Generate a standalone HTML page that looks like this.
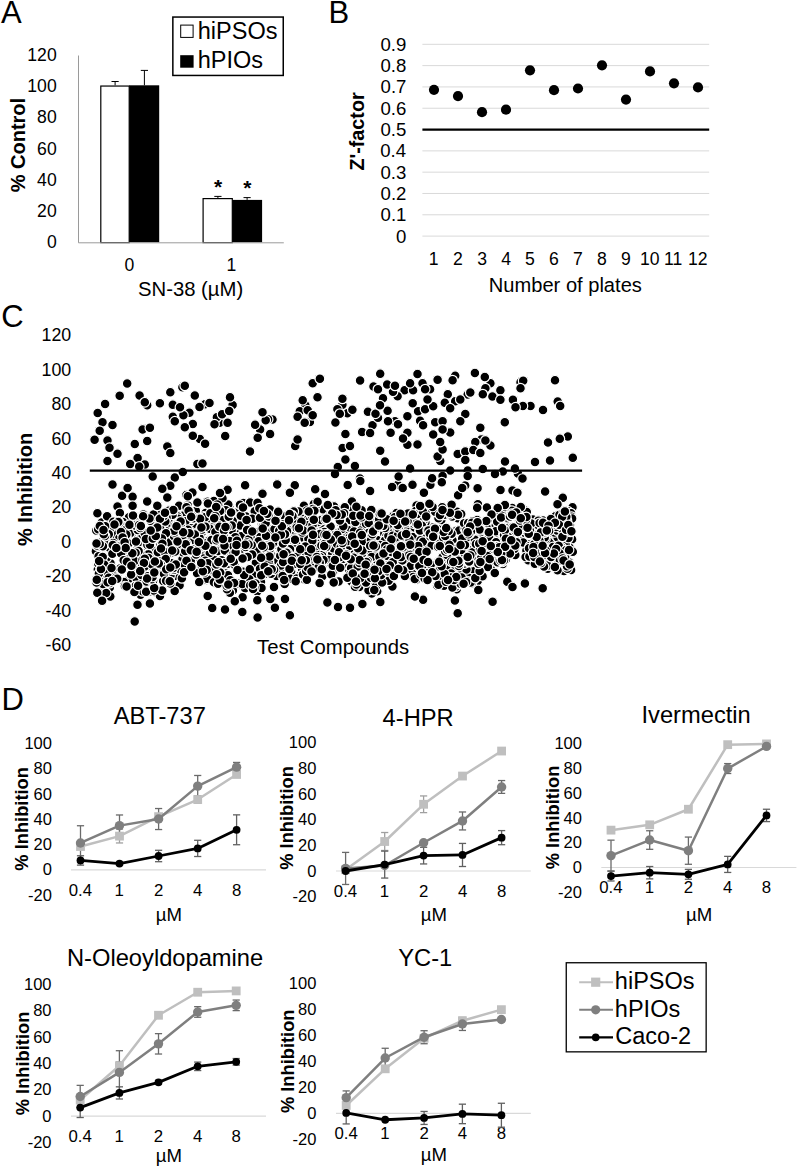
<!DOCTYPE html>
<html><head><meta charset="utf-8"><title>Figure</title><style>
html,body{margin:0;padding:0;background:#fff;}
body{width:797px;height:1167px;overflow:hidden;}
svg{display:block;font-family:"Liberation Sans",sans-serif;}
</style></head><body>
<svg width="797" height="1167" viewBox="0 0 797 1167">
<rect x="0" y="0" width="797" height="1167" fill="#fff"/>
<text x="1.04" y="22.60" font-size="31.00" fill="#000">A</text>
<text x="328.46" y="22.70" font-size="31.00" fill="#000">B</text>
<text x="1.33" y="326.80" font-size="31.00" fill="#000">C</text>
<text x="1.46" y="709.60" font-size="31.00" fill="#000">D</text>
<line x1="78.50" y1="55.50" x2="78.50" y2="242.80" stroke="#9a9a9a" stroke-width="1.00"/>
<text x="46.90" y="248.35" font-size="17.60" fill="#000">0</text>
<text x="37.11" y="217.10" font-size="17.60" fill="#000">20</text>
<text x="37.11" y="185.85" font-size="17.60" fill="#000">40</text>
<text x="37.11" y="154.60" font-size="17.60" fill="#000">60</text>
<text x="37.11" y="123.35" font-size="17.60" fill="#000">80</text>
<text x="27.32" y="92.10" font-size="17.60" fill="#000">100</text>
<text x="27.32" y="60.85" font-size="17.60" fill="#000">120</text>
<rect x="100.80" y="86.05" width="28.40" height="156.55" fill="#fff" stroke="#000" stroke-width="1.20"/>
<rect x="129.20" y="85.30" width="30.00" height="157.00" fill="#000"/>
<rect x="203.10" y="198.60" width="29.20" height="44.00" fill="#fff" stroke="#000" stroke-width="1.20"/>
<rect x="232.30" y="199.90" width="29.80" height="42.40" fill="#000"/>
<line x1="78.50" y1="242.80" x2="283.80" y2="242.80" stroke="#9a9a9a" stroke-width="1.00"/>
<line x1="115.10" y1="85.30" x2="115.10" y2="81.50" stroke="#000" stroke-width="1.00"/>
<line x1="111.50" y1="81.50" x2="118.70" y2="81.50" stroke="#000" stroke-width="1.00"/>
<line x1="144.40" y1="85.30" x2="144.40" y2="70.40" stroke="#000" stroke-width="1.00"/>
<line x1="140.80" y1="70.40" x2="148.00" y2="70.40" stroke="#000" stroke-width="1.00"/>
<line x1="217.90" y1="198.00" x2="217.90" y2="196.40" stroke="#000" stroke-width="1.00"/>
<line x1="214.30" y1="196.40" x2="221.50" y2="196.40" stroke="#000" stroke-width="1.00"/>
<line x1="247.10" y1="199.90" x2="247.10" y2="197.60" stroke="#000" stroke-width="1.00"/>
<line x1="243.50" y1="197.60" x2="250.70" y2="197.60" stroke="#000" stroke-width="1.00"/>
<text x="213.89" y="193.64" font-size="21.00" font-weight="bold" fill="#000">*</text>
<text x="243.29" y="195.24" font-size="21.00" font-weight="bold" fill="#000">*</text>
<text x="124.41" y="271.00" font-size="17.60" fill="#000">0</text>
<text x="226.57" y="271.00" font-size="17.60" fill="#000">1</text>
<text x="137.98" y="295.90" font-size="20.30" fill="#000">SN-38 (µM)</text>
<text transform="translate(25.00,192.30) rotate(-90)" font-size="20.00" font-weight="bold">% Control</text>
<rect x="172.85" y="17.05" width="110.40" height="58.40" fill="none" stroke="#000" stroke-width="1.50"/>
<rect x="180.70" y="25.10" width="12.40" height="12.30" fill="#fff" stroke="#000" stroke-width="1.00"/>
<rect x="180.20" y="55.20" width="13.40" height="12.50" fill="#000"/>
<text x="197.77" y="38.60" font-size="23.50" fill="#000">hiPSOs</text>
<text x="197.77" y="68.30" font-size="23.50" fill="#000">hPIOs</text>
<line x1="422.40" y1="236.10" x2="709.20" y2="236.10" stroke="#d9d9d9" stroke-width="1.00"/>
<line x1="422.40" y1="214.79" x2="709.20" y2="214.79" stroke="#d9d9d9" stroke-width="1.00"/>
<line x1="422.40" y1="193.48" x2="709.20" y2="193.48" stroke="#d9d9d9" stroke-width="1.00"/>
<line x1="422.40" y1="172.17" x2="709.20" y2="172.17" stroke="#d9d9d9" stroke-width="1.00"/>
<line x1="422.40" y1="150.86" x2="709.20" y2="150.86" stroke="#d9d9d9" stroke-width="1.00"/>
<line x1="422.40" y1="108.24" x2="709.20" y2="108.24" stroke="#d9d9d9" stroke-width="1.00"/>
<line x1="422.40" y1="86.93" x2="709.20" y2="86.93" stroke="#d9d9d9" stroke-width="1.00"/>
<line x1="422.40" y1="65.62" x2="709.20" y2="65.62" stroke="#d9d9d9" stroke-width="1.00"/>
<line x1="422.40" y1="44.31" x2="709.20" y2="44.31" stroke="#d9d9d9" stroke-width="1.00"/>
<line x1="422.40" y1="129.55" x2="709.20" y2="129.55" stroke="#000" stroke-width="2.20"/>
<text x="395.88" y="242.50" font-size="18.60" fill="#000">0</text>
<text x="380.55" y="221.19" font-size="18.60" fill="#000">0.1</text>
<text x="380.58" y="199.88" font-size="18.60" fill="#000">0.2</text>
<text x="380.46" y="178.57" font-size="18.60" fill="#000">0.3</text>
<text x="380.19" y="157.26" font-size="18.60" fill="#000">0.4</text>
<text x="380.42" y="135.95" font-size="18.60" fill="#000">0.5</text>
<text x="380.46" y="114.64" font-size="18.60" fill="#000">0.6</text>
<text x="380.58" y="93.33" font-size="18.60" fill="#000">0.7</text>
<text x="380.45" y="72.02" font-size="18.60" fill="#000">0.8</text>
<text x="380.52" y="50.71" font-size="18.60" fill="#000">0.9</text>
<circle cx="434.00" cy="89.80" r="5.10" fill="#000"/>
<circle cx="458.00" cy="96.10" r="5.10" fill="#000"/>
<circle cx="482.00" cy="112.20" r="5.10" fill="#000"/>
<circle cx="506.00" cy="109.70" r="5.10" fill="#000"/>
<circle cx="530.00" cy="70.30" r="5.10" fill="#000"/>
<circle cx="554.00" cy="90.20" r="5.10" fill="#000"/>
<circle cx="578.00" cy="88.50" r="5.10" fill="#000"/>
<circle cx="602.00" cy="65.30" r="5.10" fill="#000"/>
<circle cx="626.00" cy="99.60" r="5.10" fill="#000"/>
<circle cx="650.00" cy="71.40" r="5.10" fill="#000"/>
<circle cx="674.00" cy="83.30" r="5.10" fill="#000"/>
<circle cx="698.00" cy="87.40" r="5.10" fill="#000"/>
<text x="428.87" y="264.90" font-size="17.60" fill="#000">1</text>
<text x="453.11" y="264.90" font-size="17.60" fill="#000">2</text>
<text x="477.16" y="264.90" font-size="17.60" fill="#000">3</text>
<text x="501.16" y="264.90" font-size="17.60" fill="#000">4</text>
<text x="525.12" y="264.90" font-size="17.60" fill="#000">5</text>
<text x="549.05" y="264.90" font-size="17.60" fill="#000">6</text>
<text x="573.10" y="264.90" font-size="17.60" fill="#000">7</text>
<text x="597.11" y="264.90" font-size="17.60" fill="#000">8</text>
<text x="621.11" y="264.90" font-size="17.60" fill="#000">9</text>
<text x="639.89" y="264.90" font-size="17.60" fill="#000">10</text>
<text x="663.97" y="264.90" font-size="17.60" fill="#000">11</text>
<text x="687.98" y="264.90" font-size="17.60" fill="#000">12</text>
<text x="488.85" y="291.80" font-size="20.10" fill="#000">Number of plates</text>
<text transform="translate(363.80,170.59) rotate(-90)" font-size="19.80" font-weight="bold">Z'-factor</text>
<text x="45.47" y="651.32" font-size="17.80" fill="#000">-60</text>
<text x="45.47" y="616.86" font-size="17.80" fill="#000">-40</text>
<text x="45.47" y="582.39" font-size="17.80" fill="#000">-20</text>
<text x="61.30" y="547.92" font-size="17.80" fill="#000">0</text>
<text x="51.40" y="513.46" font-size="17.80" fill="#000">20</text>
<text x="51.40" y="478.99" font-size="17.80" fill="#000">40</text>
<text x="51.40" y="444.53" font-size="17.80" fill="#000">60</text>
<text x="51.40" y="410.06" font-size="17.80" fill="#000">80</text>
<text x="41.50" y="375.59" font-size="17.80" fill="#000">100</text>
<text x="41.50" y="341.13" font-size="17.80" fill="#000">120</text>
<text transform="translate(31.50,546.10) rotate(-90)" font-size="20.00" font-weight="bold">% Inhibition</text>
<text x="257.04" y="653.80" font-size="20.30" fill="#000">Test Compounds</text>
<g fill="#000" stroke="#fff" stroke-width="1.2">
<circle cx="557.7" cy="401.5" r="4.85"/>
<circle cx="136.4" cy="572.0" r="4.85"/>
<circle cx="251.8" cy="576.3" r="4.85"/>
<circle cx="543.5" cy="531.1" r="4.85"/>
<circle cx="309.9" cy="421.9" r="4.85"/>
<circle cx="134.7" cy="526.3" r="4.85"/>
<circle cx="163.8" cy="567.6" r="4.85"/>
<circle cx="450.2" cy="565.1" r="4.85"/>
<circle cx="535.3" cy="539.1" r="4.85"/>
<circle cx="95.9" cy="551.3" r="4.85"/>
<circle cx="421.6" cy="534.2" r="4.85"/>
<circle cx="404.6" cy="390.2" r="4.85"/>
<circle cx="106.5" cy="521.6" r="4.85"/>
<circle cx="347.8" cy="517.1" r="4.85"/>
<circle cx="436.6" cy="510.7" r="4.85"/>
<circle cx="179.6" cy="585.2" r="4.85"/>
<circle cx="392.1" cy="558.1" r="4.85"/>
<circle cx="132.6" cy="553.8" r="4.85"/>
<circle cx="149.9" cy="603.6" r="4.85"/>
<circle cx="131.6" cy="550.9" r="4.85"/>
<circle cx="535.6" cy="536.8" r="4.85"/>
<circle cx="267.7" cy="547.6" r="4.85"/>
<circle cx="521.4" cy="508.5" r="4.85"/>
<circle cx="339.4" cy="518.7" r="4.85"/>
<circle cx="278.0" cy="517.5" r="4.85"/>
<circle cx="571.1" cy="570.1" r="4.85"/>
<circle cx="455.2" cy="375.7" r="4.85"/>
<circle cx="140.5" cy="594.7" r="4.85"/>
<circle cx="146.5" cy="552.6" r="4.85"/>
<circle cx="372.5" cy="425.3" r="4.85"/>
<circle cx="341.4" cy="526.7" r="4.85"/>
<circle cx="522.0" cy="515.4" r="4.85"/>
<circle cx="352.8" cy="529.2" r="4.85"/>
<circle cx="282.9" cy="533.2" r="4.85"/>
<circle cx="295.2" cy="446.0" r="4.85"/>
<circle cx="195.0" cy="566.5" r="4.85"/>
<circle cx="148.4" cy="553.8" r="4.85"/>
<circle cx="172.2" cy="552.7" r="4.85"/>
<circle cx="501.7" cy="506.9" r="4.85"/>
<circle cx="397.6" cy="396.2" r="4.85"/>
<circle cx="272.5" cy="419.5" r="4.85"/>
<circle cx="200.3" cy="518.3" r="4.85"/>
<circle cx="380.2" cy="373.7" r="4.85"/>
<circle cx="440.2" cy="460.9" r="4.85"/>
<circle cx="240.6" cy="514.1" r="4.85"/>
<circle cx="406.9" cy="547.0" r="4.85"/>
<circle cx="299.5" cy="528.9" r="4.85"/>
<circle cx="345.4" cy="459.5" r="4.85"/>
<circle cx="127.5" cy="530.4" r="4.85"/>
<circle cx="354.1" cy="565.6" r="4.85"/>
<circle cx="111.5" cy="542.7" r="4.85"/>
<circle cx="139.3" cy="537.7" r="4.85"/>
<circle cx="304.2" cy="559.4" r="4.85"/>
<circle cx="182.0" cy="557.2" r="4.85"/>
<circle cx="197.1" cy="515.1" r="4.85"/>
<circle cx="134.7" cy="621.6" r="4.85"/>
<circle cx="137.4" cy="520.9" r="4.85"/>
<circle cx="328.3" cy="543.2" r="4.85"/>
<circle cx="278.9" cy="559.8" r="4.85"/>
<circle cx="430.1" cy="512.0" r="4.85"/>
<circle cx="404.4" cy="536.3" r="4.85"/>
<circle cx="350.0" cy="607.8" r="4.85"/>
<circle cx="251.2" cy="557.2" r="4.85"/>
<circle cx="477.6" cy="488.3" r="4.85"/>
<circle cx="297.9" cy="576.5" r="4.85"/>
<circle cx="440.5" cy="510.7" r="4.85"/>
<circle cx="255.3" cy="558.5" r="4.85"/>
<circle cx="138.9" cy="572.5" r="4.85"/>
<circle cx="146.8" cy="561.6" r="4.85"/>
<circle cx="197.4" cy="463.9" r="4.85"/>
<circle cx="171.2" cy="550.4" r="4.85"/>
<circle cx="238.7" cy="541.2" r="4.85"/>
<circle cx="440.3" cy="532.2" r="4.85"/>
<circle cx="361.4" cy="518.1" r="4.85"/>
<circle cx="572.5" cy="507.2" r="4.85"/>
<circle cx="221.9" cy="544.5" r="4.85"/>
<circle cx="397.2" cy="545.2" r="4.85"/>
<circle cx="537.4" cy="559.8" r="4.85"/>
<circle cx="541.0" cy="537.4" r="4.85"/>
<circle cx="317.5" cy="397.2" r="4.85"/>
<circle cx="363.0" cy="560.9" r="4.85"/>
<circle cx="521.8" cy="533.3" r="4.85"/>
<circle cx="377.7" cy="574.2" r="4.85"/>
<circle cx="454.8" cy="571.7" r="4.85"/>
<circle cx="409.1" cy="545.3" r="4.85"/>
<circle cx="472.3" cy="536.9" r="4.85"/>
<circle cx="490.3" cy="550.7" r="4.85"/>
<circle cx="357.5" cy="532.1" r="4.85"/>
<circle cx="209.4" cy="553.2" r="4.85"/>
<circle cx="447.5" cy="546.1" r="4.85"/>
<circle cx="443.4" cy="515.5" r="4.85"/>
<circle cx="181.4" cy="552.4" r="4.85"/>
<circle cx="288.6" cy="521.1" r="4.85"/>
<circle cx="564.0" cy="571.1" r="4.85"/>
<circle cx="312.7" cy="383.2" r="4.85"/>
<circle cx="493.3" cy="526.9" r="4.85"/>
<circle cx="197.6" cy="542.2" r="4.85"/>
<circle cx="351.8" cy="529.5" r="4.85"/>
<circle cx="309.8" cy="551.6" r="4.85"/>
<circle cx="224.8" cy="537.8" r="4.85"/>
<circle cx="301.2" cy="557.1" r="4.85"/>
<circle cx="184.8" cy="516.6" r="4.85"/>
<circle cx="530.5" cy="405.9" r="4.85"/>
<circle cx="483.7" cy="526.0" r="4.85"/>
<circle cx="445.5" cy="565.1" r="4.85"/>
<circle cx="473.2" cy="549.8" r="4.85"/>
<circle cx="150.6" cy="591.2" r="4.85"/>
<circle cx="548.0" cy="553.7" r="4.85"/>
<circle cx="453.4" cy="516.9" r="4.85"/>
<circle cx="473.1" cy="534.1" r="4.85"/>
<circle cx="427.9" cy="549.5" r="4.85"/>
<circle cx="376.6" cy="547.2" r="4.85"/>
<circle cx="396.2" cy="518.6" r="4.85"/>
<circle cx="232.6" cy="404.9" r="4.85"/>
<circle cx="490.1" cy="549.5" r="4.85"/>
<circle cx="485.0" cy="531.4" r="4.85"/>
<circle cx="162.4" cy="547.3" r="4.85"/>
<circle cx="238.3" cy="548.7" r="4.85"/>
<circle cx="270.1" cy="434.0" r="4.85"/>
<circle cx="502.8" cy="520.3" r="4.85"/>
<circle cx="303.2" cy="508.3" r="4.85"/>
<circle cx="567.9" cy="511.3" r="4.85"/>
<circle cx="263.3" cy="544.8" r="4.85"/>
<circle cx="149.4" cy="585.6" r="4.85"/>
<circle cx="572.1" cy="539.2" r="4.85"/>
<circle cx="453.5" cy="571.9" r="4.85"/>
<circle cx="547.2" cy="531.1" r="4.85"/>
<circle cx="244.6" cy="557.8" r="4.85"/>
<circle cx="418.1" cy="530.6" r="4.85"/>
<circle cx="477.9" cy="504.3" r="4.85"/>
<circle cx="192.6" cy="511.6" r="4.85"/>
<circle cx="174.8" cy="477.5" r="4.85"/>
<circle cx="507.0" cy="539.2" r="4.85"/>
<circle cx="202.6" cy="552.3" r="4.85"/>
<circle cx="537.5" cy="536.7" r="4.85"/>
<circle cx="418.1" cy="411.3" r="4.85"/>
<circle cx="117.6" cy="537.6" r="4.85"/>
<circle cx="460.1" cy="554.4" r="4.85"/>
<circle cx="479.0" cy="543.6" r="4.85"/>
<circle cx="319.2" cy="527.3" r="4.85"/>
<circle cx="194.3" cy="539.9" r="4.85"/>
<circle cx="174.5" cy="576.1" r="4.85"/>
<circle cx="407.4" cy="432.8" r="4.85"/>
<circle cx="424.2" cy="553.9" r="4.85"/>
<circle cx="145.2" cy="568.2" r="4.85"/>
<circle cx="491.1" cy="539.6" r="4.85"/>
<circle cx="223.0" cy="552.4" r="4.85"/>
<circle cx="234.0" cy="552.1" r="4.85"/>
<circle cx="385.0" cy="461.5" r="4.85"/>
<circle cx="195.5" cy="564.5" r="4.85"/>
<circle cx="110.5" cy="563.3" r="4.85"/>
<circle cx="395.4" cy="539.4" r="4.85"/>
<circle cx="122.1" cy="495.7" r="4.85"/>
<circle cx="382.6" cy="544.1" r="4.85"/>
<circle cx="184.3" cy="570.5" r="4.85"/>
<circle cx="351.4" cy="581.6" r="4.85"/>
<circle cx="205.6" cy="512.9" r="4.85"/>
<circle cx="346.4" cy="541.8" r="4.85"/>
<circle cx="457.2" cy="511.8" r="4.85"/>
<circle cx="416.6" cy="505.6" r="4.85"/>
<circle cx="502.9" cy="564.0" r="4.85"/>
<circle cx="407.7" cy="536.4" r="4.85"/>
<circle cx="456.3" cy="530.8" r="4.85"/>
<circle cx="547.2" cy="558.2" r="4.85"/>
<circle cx="354.8" cy="514.2" r="4.85"/>
<circle cx="189.3" cy="560.4" r="4.85"/>
<circle cx="560.3" cy="527.4" r="4.85"/>
<circle cx="477.7" cy="581.0" r="4.85"/>
<circle cx="108.2" cy="584.7" r="4.85"/>
<circle cx="435.8" cy="533.1" r="4.85"/>
<circle cx="554.4" cy="540.7" r="4.85"/>
<circle cx="244.4" cy="544.6" r="4.85"/>
<circle cx="454.9" cy="600.5" r="4.85"/>
<circle cx="512.8" cy="514.7" r="4.85"/>
<circle cx="304.7" cy="515.8" r="4.85"/>
<circle cx="303.9" cy="505.7" r="4.85"/>
<circle cx="432.5" cy="572.0" r="4.85"/>
<circle cx="404.7" cy="549.9" r="4.85"/>
<circle cx="147.2" cy="405.3" r="4.85"/>
<circle cx="165.3" cy="581.6" r="4.85"/>
<circle cx="549.4" cy="550.3" r="4.85"/>
<circle cx="242.5" cy="586.0" r="4.85"/>
<circle cx="447.8" cy="394.2" r="4.85"/>
<circle cx="448.7" cy="570.6" r="4.85"/>
<circle cx="549.6" cy="534.1" r="4.85"/>
<circle cx="160.5" cy="526.5" r="4.85"/>
<circle cx="352.0" cy="568.9" r="4.85"/>
<circle cx="456.7" cy="589.2" r="4.85"/>
<circle cx="325.5" cy="554.4" r="4.85"/>
<circle cx="193.7" cy="525.3" r="4.85"/>
<circle cx="141.1" cy="534.6" r="4.85"/>
<circle cx="558.3" cy="539.0" r="4.85"/>
<circle cx="122.3" cy="546.2" r="4.85"/>
<circle cx="320.5" cy="546.4" r="4.85"/>
<circle cx="358.2" cy="566.4" r="4.85"/>
<circle cx="203.7" cy="516.5" r="4.85"/>
<circle cx="170.5" cy="575.5" r="4.85"/>
<circle cx="486.0" cy="550.9" r="4.85"/>
<circle cx="493.3" cy="563.9" r="4.85"/>
<circle cx="496.9" cy="551.0" r="4.85"/>
<circle cx="192.8" cy="423.9" r="4.85"/>
<circle cx="412.3" cy="532.3" r="4.85"/>
<circle cx="389.4" cy="527.1" r="4.85"/>
<circle cx="522.3" cy="528.1" r="4.85"/>
<circle cx="238.5" cy="554.7" r="4.85"/>
<circle cx="129.6" cy="578.4" r="4.85"/>
<circle cx="232.7" cy="519.0" r="4.85"/>
<circle cx="512.5" cy="490.4" r="4.85"/>
<circle cx="239.0" cy="553.0" r="4.85"/>
<circle cx="487.9" cy="528.1" r="4.85"/>
<circle cx="238.0" cy="550.1" r="4.85"/>
<circle cx="365.4" cy="573.9" r="4.85"/>
<circle cx="123.9" cy="582.1" r="4.85"/>
<circle cx="561.8" cy="545.1" r="4.85"/>
<circle cx="238.2" cy="583.5" r="4.85"/>
<circle cx="553.6" cy="564.8" r="4.85"/>
<circle cx="567.4" cy="525.8" r="4.85"/>
<circle cx="314.8" cy="525.3" r="4.85"/>
<circle cx="553.4" cy="542.3" r="4.85"/>
<circle cx="230.0" cy="508.5" r="4.85"/>
<circle cx="212.3" cy="568.7" r="4.85"/>
<circle cx="364.5" cy="573.5" r="4.85"/>
<circle cx="100.8" cy="583.1" r="4.85"/>
<circle cx="301.1" cy="512.6" r="4.85"/>
<circle cx="167.9" cy="570.4" r="4.85"/>
<circle cx="323.3" cy="509.4" r="4.85"/>
<circle cx="245.1" cy="588.3" r="4.85"/>
<circle cx="315.2" cy="489.2" r="4.85"/>
<circle cx="220.9" cy="523.7" r="4.85"/>
<circle cx="476.5" cy="533.1" r="4.85"/>
<circle cx="418.2" cy="562.1" r="4.85"/>
<circle cx="276.4" cy="575.9" r="4.85"/>
<circle cx="279.6" cy="543.1" r="4.85"/>
<circle cx="291.7" cy="560.6" r="4.85"/>
<circle cx="467.7" cy="470.5" r="4.85"/>
<circle cx="205.1" cy="404.3" r="4.85"/>
<circle cx="234.8" cy="531.7" r="4.85"/>
<circle cx="116.8" cy="579.1" r="4.85"/>
<circle cx="100.4" cy="564.0" r="4.85"/>
<circle cx="117.8" cy="531.1" r="4.85"/>
<circle cx="199.9" cy="439.0" r="4.85"/>
<circle cx="222.4" cy="507.1" r="4.85"/>
<circle cx="131.4" cy="534.0" r="4.85"/>
<circle cx="440.9" cy="532.1" r="4.85"/>
<circle cx="219.5" cy="504.6" r="4.85"/>
<circle cx="136.6" cy="578.6" r="4.85"/>
<circle cx="463.3" cy="555.3" r="4.85"/>
<circle cx="393.7" cy="515.6" r="4.85"/>
<circle cx="400.8" cy="568.6" r="4.85"/>
<circle cx="360.4" cy="531.1" r="4.85"/>
<circle cx="278.0" cy="555.0" r="4.85"/>
<circle cx="427.5" cy="550.6" r="4.85"/>
<circle cx="523.4" cy="510.6" r="4.85"/>
<circle cx="118.8" cy="527.0" r="4.85"/>
<circle cx="478.3" cy="539.1" r="4.85"/>
<circle cx="137.6" cy="458.1" r="4.85"/>
<circle cx="167.3" cy="446.4" r="4.85"/>
<circle cx="266.6" cy="549.8" r="4.85"/>
<circle cx="535.8" cy="556.2" r="4.85"/>
<circle cx="137.1" cy="545.5" r="4.85"/>
<circle cx="171.9" cy="520.0" r="4.85"/>
<circle cx="450.2" cy="470.5" r="4.85"/>
<circle cx="371.6" cy="556.7" r="4.85"/>
<circle cx="97.5" cy="564.2" r="4.85"/>
<circle cx="156.9" cy="565.5" r="4.85"/>
<circle cx="469.2" cy="530.5" r="4.85"/>
<circle cx="318.4" cy="521.0" r="4.85"/>
<circle cx="283.8" cy="527.3" r="4.85"/>
<circle cx="304.5" cy="579.4" r="4.85"/>
<circle cx="347.9" cy="530.0" r="4.85"/>
<circle cx="280.3" cy="539.8" r="4.85"/>
<circle cx="253.8" cy="550.8" r="4.85"/>
<circle cx="481.5" cy="564.2" r="4.85"/>
<circle cx="258.9" cy="539.3" r="4.85"/>
<circle cx="208.6" cy="540.7" r="4.85"/>
<circle cx="483.7" cy="553.8" r="4.85"/>
<circle cx="551.4" cy="532.7" r="4.85"/>
<circle cx="190.1" cy="521.4" r="4.85"/>
<circle cx="150.4" cy="520.8" r="4.85"/>
<circle cx="455.3" cy="555.6" r="4.85"/>
<circle cx="246.3" cy="557.0" r="4.85"/>
<circle cx="485.1" cy="557.9" r="4.85"/>
<circle cx="127.4" cy="532.9" r="4.85"/>
<circle cx="415.0" cy="550.8" r="4.85"/>
<circle cx="529.5" cy="552.3" r="4.85"/>
<circle cx="194.2" cy="549.0" r="4.85"/>
<circle cx="127.0" cy="545.9" r="4.85"/>
<circle cx="570.7" cy="522.3" r="4.85"/>
<circle cx="528.2" cy="560.3" r="4.85"/>
<circle cx="286.7" cy="531.1" r="4.85"/>
<circle cx="563.1" cy="539.0" r="4.85"/>
<circle cx="295.4" cy="533.6" r="4.85"/>
<circle cx="509.3" cy="520.1" r="4.85"/>
<circle cx="174.0" cy="569.8" r="4.85"/>
<circle cx="246.9" cy="551.5" r="4.85"/>
<circle cx="432.9" cy="567.2" r="4.85"/>
<circle cx="439.2" cy="580.4" r="4.85"/>
<circle cx="286.5" cy="520.8" r="4.85"/>
<circle cx="127.6" cy="488.1" r="4.85"/>
<circle cx="471.9" cy="583.2" r="4.85"/>
<circle cx="183.7" cy="559.4" r="4.85"/>
<circle cx="211.2" cy="554.6" r="4.85"/>
<circle cx="571.1" cy="513.2" r="4.85"/>
<circle cx="373.6" cy="567.9" r="4.85"/>
<circle cx="254.1" cy="548.9" r="4.85"/>
<circle cx="305.3" cy="405.3" r="4.85"/>
<circle cx="460.3" cy="545.5" r="4.85"/>
<circle cx="489.4" cy="523.8" r="4.85"/>
<circle cx="394.5" cy="542.5" r="4.85"/>
<circle cx="195.8" cy="510.8" r="4.85"/>
<circle cx="309.5" cy="540.7" r="4.85"/>
<circle cx="342.6" cy="448.0" r="4.85"/>
<circle cx="262.0" cy="522.4" r="4.85"/>
<circle cx="498.6" cy="515.2" r="4.85"/>
<circle cx="452.5" cy="540.0" r="4.85"/>
<circle cx="452.7" cy="555.1" r="4.85"/>
<circle cx="473.8" cy="548.6" r="4.85"/>
<circle cx="455.8" cy="586.6" r="4.85"/>
<circle cx="555.4" cy="516.2" r="4.85"/>
<circle cx="316.0" cy="523.1" r="4.85"/>
<circle cx="366.8" cy="553.8" r="4.85"/>
<circle cx="340.1" cy="530.7" r="4.85"/>
<circle cx="241.5" cy="571.6" r="4.85"/>
<circle cx="442.6" cy="476.1" r="4.85"/>
<circle cx="569.5" cy="547.4" r="4.85"/>
<circle cx="303.8" cy="546.0" r="4.85"/>
<circle cx="186.4" cy="495.1" r="4.85"/>
<circle cx="365.1" cy="571.0" r="4.85"/>
<circle cx="107.5" cy="440.4" r="4.85"/>
<circle cx="336.0" cy="569.9" r="4.85"/>
<circle cx="295.0" cy="515.1" r="4.85"/>
<circle cx="228.3" cy="504.6" r="4.85"/>
<circle cx="307.8" cy="542.8" r="4.85"/>
<circle cx="179.3" cy="519.4" r="4.85"/>
<circle cx="490.4" cy="445.4" r="4.85"/>
<circle cx="447.2" cy="560.9" r="4.85"/>
<circle cx="275.9" cy="564.0" r="4.85"/>
<circle cx="504.7" cy="517.9" r="4.85"/>
<circle cx="405.1" cy="552.1" r="4.85"/>
<circle cx="571.6" cy="516.7" r="4.85"/>
<circle cx="335.9" cy="533.4" r="4.85"/>
<circle cx="422.7" cy="560.2" r="4.85"/>
<circle cx="298.2" cy="533.0" r="4.85"/>
<circle cx="315.9" cy="505.6" r="4.85"/>
<circle cx="129.0" cy="517.3" r="4.85"/>
<circle cx="239.8" cy="546.2" r="4.85"/>
<circle cx="267.0" cy="531.1" r="4.85"/>
<circle cx="377.2" cy="540.3" r="4.85"/>
<circle cx="211.0" cy="579.3" r="4.85"/>
<circle cx="98.6" cy="556.2" r="4.85"/>
<circle cx="289.2" cy="517.0" r="4.85"/>
<circle cx="127.2" cy="383.6" r="4.85"/>
<circle cx="218.0" cy="536.6" r="4.85"/>
<circle cx="346.4" cy="557.7" r="4.85"/>
<circle cx="198.9" cy="518.0" r="4.85"/>
<circle cx="293.4" cy="560.7" r="4.85"/>
<circle cx="415.8" cy="511.1" r="4.85"/>
<circle cx="457.8" cy="518.3" r="4.85"/>
<circle cx="110.7" cy="573.3" r="4.85"/>
<circle cx="488.5" cy="521.4" r="4.85"/>
<circle cx="135.8" cy="570.3" r="4.85"/>
<circle cx="281.9" cy="518.5" r="4.85"/>
<circle cx="332.6" cy="542.9" r="4.85"/>
<circle cx="498.3" cy="551.2" r="4.85"/>
<circle cx="350.3" cy="520.4" r="4.85"/>
<circle cx="565.8" cy="544.7" r="4.85"/>
<circle cx="206.1" cy="545.0" r="4.85"/>
<circle cx="280.1" cy="568.5" r="4.85"/>
<circle cx="426.7" cy="568.7" r="4.85"/>
<circle cx="122.6" cy="532.2" r="4.85"/>
<circle cx="256.5" cy="582.1" r="4.85"/>
<circle cx="329.2" cy="568.8" r="4.85"/>
<circle cx="467.4" cy="575.0" r="4.85"/>
<circle cx="219.1" cy="570.1" r="4.85"/>
<circle cx="200.7" cy="543.9" r="4.85"/>
<circle cx="102.0" cy="527.0" r="4.85"/>
<circle cx="200.7" cy="528.6" r="4.85"/>
<circle cx="481.3" cy="439.4" r="4.85"/>
<circle cx="158.1" cy="564.2" r="4.85"/>
<circle cx="219.5" cy="422.7" r="4.85"/>
<circle cx="106.6" cy="557.8" r="4.85"/>
<circle cx="411.5" cy="518.6" r="4.85"/>
<circle cx="267.9" cy="529.0" r="4.85"/>
<circle cx="390.3" cy="533.5" r="4.85"/>
<circle cx="276.4" cy="532.5" r="4.85"/>
<circle cx="103.3" cy="545.9" r="4.85"/>
<circle cx="244.3" cy="504.4" r="4.85"/>
<circle cx="388.0" cy="566.2" r="4.85"/>
<circle cx="104.6" cy="581.6" r="4.85"/>
<circle cx="436.3" cy="513.4" r="4.85"/>
<circle cx="204.6" cy="560.8" r="4.85"/>
<circle cx="437.6" cy="456.5" r="4.85"/>
<circle cx="345.5" cy="536.0" r="4.85"/>
<circle cx="133.9" cy="558.2" r="4.85"/>
<circle cx="392.9" cy="565.5" r="4.85"/>
<circle cx="227.7" cy="563.7" r="4.85"/>
<circle cx="550.1" cy="529.8" r="4.85"/>
<circle cx="199.0" cy="551.3" r="4.85"/>
<circle cx="350.0" cy="446.0" r="4.85"/>
<circle cx="373.1" cy="561.0" r="4.85"/>
<circle cx="291.1" cy="571.8" r="4.85"/>
<circle cx="271.4" cy="544.4" r="4.85"/>
<circle cx="295.5" cy="535.0" r="4.85"/>
<circle cx="274.9" cy="607.8" r="4.85"/>
<circle cx="498.3" cy="537.9" r="4.85"/>
<circle cx="342.0" cy="528.9" r="4.85"/>
<circle cx="255.1" cy="589.1" r="4.85"/>
<circle cx="181.2" cy="561.2" r="4.85"/>
<circle cx="128.5" cy="525.2" r="4.85"/>
<circle cx="206.6" cy="554.6" r="4.85"/>
<circle cx="431.9" cy="538.8" r="4.85"/>
<circle cx="436.9" cy="567.3" r="4.85"/>
<circle cx="545.1" cy="491.5" r="4.85"/>
<circle cx="338.9" cy="509.2" r="4.85"/>
<circle cx="559.5" cy="514.8" r="4.85"/>
<circle cx="197.1" cy="573.2" r="4.85"/>
<circle cx="258.9" cy="562.6" r="4.85"/>
<circle cx="383.5" cy="535.0" r="4.85"/>
<circle cx="359.1" cy="546.8" r="4.85"/>
<circle cx="300.1" cy="575.4" r="4.85"/>
<circle cx="158.9" cy="558.1" r="4.85"/>
<circle cx="489.4" cy="532.5" r="4.85"/>
<circle cx="511.2" cy="508.8" r="4.85"/>
<circle cx="440.5" cy="564.6" r="4.85"/>
<circle cx="485.4" cy="440.4" r="4.85"/>
<circle cx="225.5" cy="573.4" r="4.85"/>
<circle cx="513.0" cy="549.8" r="4.85"/>
<circle cx="363.5" cy="541.0" r="4.85"/>
<circle cx="569.5" cy="530.4" r="4.85"/>
<circle cx="297.6" cy="528.4" r="4.85"/>
<circle cx="417.5" cy="444.4" r="4.85"/>
<circle cx="550.4" cy="539.4" r="4.85"/>
<circle cx="546.9" cy="560.8" r="4.85"/>
<circle cx="101.7" cy="522.5" r="4.85"/>
<circle cx="499.3" cy="543.0" r="4.85"/>
<circle cx="515.3" cy="555.1" r="4.85"/>
<circle cx="290.7" cy="578.7" r="4.85"/>
<circle cx="138.6" cy="588.1" r="4.85"/>
<circle cx="192.5" cy="564.6" r="4.85"/>
<circle cx="260.1" cy="429.4" r="4.85"/>
<circle cx="285.2" cy="548.0" r="4.85"/>
<circle cx="548.6" cy="532.9" r="4.85"/>
<circle cx="508.2" cy="541.0" r="4.85"/>
<circle cx="331.0" cy="550.7" r="4.85"/>
<circle cx="152.7" cy="579.8" r="4.85"/>
<circle cx="233.2" cy="526.6" r="4.85"/>
<circle cx="117.5" cy="506.6" r="4.85"/>
<circle cx="241.7" cy="536.0" r="4.85"/>
<circle cx="167.5" cy="543.7" r="4.85"/>
<circle cx="521.0" cy="521.9" r="4.85"/>
<circle cx="110.9" cy="538.2" r="4.85"/>
<circle cx="382.6" cy="531.3" r="4.85"/>
<circle cx="287.7" cy="518.0" r="4.85"/>
<circle cx="570.0" cy="524.9" r="4.85"/>
<circle cx="519.7" cy="509.3" r="4.85"/>
<circle cx="206.9" cy="553.3" r="4.85"/>
<circle cx="119.3" cy="535.7" r="4.85"/>
<circle cx="532.2" cy="531.9" r="4.85"/>
<circle cx="553.1" cy="526.0" r="4.85"/>
<circle cx="139.6" cy="556.3" r="4.85"/>
<circle cx="299.8" cy="411.3" r="4.85"/>
<circle cx="355.2" cy="549.1" r="4.85"/>
<circle cx="155.2" cy="547.7" r="4.85"/>
<circle cx="139.6" cy="395.6" r="4.85"/>
<circle cx="329.8" cy="539.1" r="4.85"/>
<circle cx="396.1" cy="552.1" r="4.85"/>
<circle cx="179.0" cy="505.7" r="4.85"/>
<circle cx="206.8" cy="580.0" r="4.85"/>
<circle cx="203.4" cy="563.9" r="4.85"/>
<circle cx="256.1" cy="573.5" r="4.85"/>
<circle cx="120.9" cy="523.0" r="4.85"/>
<circle cx="472.4" cy="569.0" r="4.85"/>
<circle cx="397.3" cy="517.6" r="4.85"/>
<circle cx="166.0" cy="518.1" r="4.85"/>
<circle cx="323.8" cy="568.8" r="4.85"/>
<circle cx="294.8" cy="485.2" r="4.85"/>
<circle cx="457.1" cy="561.9" r="4.85"/>
<circle cx="111.6" cy="552.8" r="4.85"/>
<circle cx="524.2" cy="509.7" r="4.85"/>
<circle cx="462.4" cy="544.1" r="4.85"/>
<circle cx="370.4" cy="523.6" r="4.85"/>
<circle cx="466.9" cy="581.1" r="4.85"/>
<circle cx="513.8" cy="527.7" r="4.85"/>
<circle cx="473.6" cy="538.0" r="4.85"/>
<circle cx="453.1" cy="549.8" r="4.85"/>
<circle cx="572.8" cy="457.7" r="4.85"/>
<circle cx="145.4" cy="538.8" r="4.85"/>
<circle cx="236.9" cy="544.2" r="4.85"/>
<circle cx="101.8" cy="541.7" r="4.85"/>
<circle cx="245.6" cy="520.7" r="4.85"/>
<circle cx="175.4" cy="542.9" r="4.85"/>
<circle cx="180.0" cy="569.3" r="4.85"/>
<circle cx="550.2" cy="522.2" r="4.85"/>
<circle cx="442.3" cy="560.2" r="4.85"/>
<circle cx="408.4" cy="556.2" r="4.85"/>
<circle cx="412.7" cy="403.3" r="4.85"/>
<circle cx="144.1" cy="534.4" r="4.85"/>
<circle cx="100.1" cy="565.3" r="4.85"/>
<circle cx="249.2" cy="533.3" r="4.85"/>
<circle cx="307.6" cy="553.8" r="4.85"/>
<circle cx="330.1" cy="550.7" r="4.85"/>
<circle cx="322.4" cy="576.2" r="4.85"/>
<circle cx="500.4" cy="390.2" r="4.85"/>
<circle cx="242.5" cy="505.9" r="4.85"/>
<circle cx="141.8" cy="528.2" r="4.85"/>
<circle cx="156.7" cy="535.3" r="4.85"/>
<circle cx="410.2" cy="541.0" r="4.85"/>
<circle cx="273.2" cy="568.4" r="4.85"/>
<circle cx="276.3" cy="560.1" r="4.85"/>
<circle cx="572.1" cy="518.6" r="4.85"/>
<circle cx="315.8" cy="548.6" r="4.85"/>
<circle cx="345.2" cy="558.7" r="4.85"/>
<circle cx="558.2" cy="527.6" r="4.85"/>
<circle cx="514.7" cy="528.3" r="4.85"/>
<circle cx="486.8" cy="537.9" r="4.85"/>
<circle cx="197.1" cy="554.7" r="4.85"/>
<circle cx="527.4" cy="538.7" r="4.85"/>
<circle cx="109.8" cy="587.5" r="4.85"/>
<circle cx="375.2" cy="529.6" r="4.85"/>
<circle cx="492.6" cy="539.1" r="4.85"/>
<circle cx="306.3" cy="547.2" r="4.85"/>
<circle cx="430.8" cy="568.6" r="4.85"/>
<circle cx="410.9" cy="556.6" r="4.85"/>
<circle cx="290.9" cy="551.6" r="4.85"/>
<circle cx="446.6" cy="565.8" r="4.85"/>
<circle cx="292.9" cy="541.6" r="4.85"/>
<circle cx="397.5" cy="529.3" r="4.85"/>
<circle cx="420.1" cy="420.7" r="4.85"/>
<circle cx="104.0" cy="590.4" r="4.85"/>
<circle cx="257.7" cy="437.8" r="4.85"/>
<circle cx="261.9" cy="524.3" r="4.85"/>
<circle cx="563.7" cy="511.6" r="4.85"/>
<circle cx="422.5" cy="383.2" r="4.85"/>
<circle cx="452.6" cy="380.2" r="4.85"/>
<circle cx="276.7" cy="545.7" r="4.85"/>
<circle cx="547.7" cy="568.8" r="4.85"/>
<circle cx="467.2" cy="581.1" r="4.85"/>
<circle cx="189.5" cy="511.1" r="4.85"/>
<circle cx="277.1" cy="541.7" r="4.85"/>
<circle cx="448.9" cy="535.8" r="4.85"/>
<circle cx="395.0" cy="421.3" r="4.85"/>
<circle cx="257.4" cy="556.2" r="4.85"/>
<circle cx="209.4" cy="564.0" r="4.85"/>
<circle cx="416.7" cy="536.9" r="4.85"/>
<circle cx="173.2" cy="568.1" r="4.85"/>
<circle cx="314.3" cy="541.5" r="4.85"/>
<circle cx="102.4" cy="543.7" r="4.85"/>
<circle cx="289.2" cy="525.3" r="4.85"/>
<circle cx="545.7" cy="523.7" r="4.85"/>
<circle cx="250.0" cy="451.4" r="4.85"/>
<circle cx="191.3" cy="545.4" r="4.85"/>
<circle cx="401.7" cy="533.8" r="4.85"/>
<circle cx="340.6" cy="509.0" r="4.85"/>
<circle cx="343.1" cy="544.7" r="4.85"/>
<circle cx="102.5" cy="422.3" r="4.85"/>
<circle cx="187.5" cy="512.3" r="4.85"/>
<circle cx="316.5" cy="555.2" r="4.85"/>
<circle cx="395.5" cy="565.8" r="4.85"/>
<circle cx="325.0" cy="494.1" r="4.85"/>
<circle cx="207.5" cy="501.8" r="4.85"/>
<circle cx="409.7" cy="573.2" r="4.85"/>
<circle cx="492.4" cy="396.6" r="4.85"/>
<circle cx="227.1" cy="540.0" r="4.85"/>
<circle cx="465.8" cy="528.2" r="4.85"/>
<circle cx="271.9" cy="539.8" r="4.85"/>
<circle cx="428.3" cy="529.0" r="4.85"/>
<circle cx="300.7" cy="537.6" r="4.85"/>
<circle cx="542.5" cy="550.1" r="4.85"/>
<circle cx="174.7" cy="590.9" r="4.85"/>
<circle cx="393.0" cy="391.8" r="4.85"/>
<circle cx="232.9" cy="590.5" r="4.85"/>
<circle cx="463.8" cy="553.1" r="4.85"/>
<circle cx="163.2" cy="580.9" r="4.85"/>
<circle cx="545.4" cy="539.2" r="4.85"/>
<circle cx="101.3" cy="570.1" r="4.85"/>
<circle cx="346.8" cy="520.7" r="4.85"/>
<circle cx="417.5" cy="374.1" r="4.85"/>
<circle cx="255.9" cy="562.8" r="4.85"/>
<circle cx="362.9" cy="541.6" r="4.85"/>
<circle cx="257.7" cy="555.0" r="4.85"/>
<circle cx="249.4" cy="579.3" r="4.85"/>
<circle cx="550.0" cy="460.5" r="4.85"/>
<circle cx="342.9" cy="510.4" r="4.85"/>
<circle cx="526.4" cy="534.7" r="4.85"/>
<circle cx="207.1" cy="557.3" r="4.85"/>
<circle cx="561.8" cy="551.8" r="4.85"/>
<circle cx="111.0" cy="549.4" r="4.85"/>
<circle cx="212.1" cy="509.4" r="4.85"/>
<circle cx="355.6" cy="562.1" r="4.85"/>
<circle cx="555.9" cy="535.7" r="4.85"/>
<circle cx="458.1" cy="583.6" r="4.85"/>
<circle cx="483.1" cy="543.0" r="4.85"/>
<circle cx="486.8" cy="562.7" r="4.85"/>
<circle cx="288.2" cy="552.8" r="4.85"/>
<circle cx="198.6" cy="532.7" r="4.85"/>
<circle cx="458.1" cy="495.3" r="4.85"/>
<circle cx="344.1" cy="561.1" r="4.85"/>
<circle cx="279.0" cy="542.2" r="4.85"/>
<circle cx="170.3" cy="583.4" r="4.85"/>
<circle cx="123.2" cy="551.4" r="4.85"/>
<circle cx="524.9" cy="583.4" r="4.85"/>
<circle cx="393.4" cy="551.4" r="4.85"/>
<circle cx="380.3" cy="602.1" r="4.85"/>
<circle cx="293.1" cy="521.3" r="4.85"/>
<circle cx="110.3" cy="596.6" r="4.85"/>
<circle cx="144.8" cy="464.5" r="4.85"/>
<circle cx="229.9" cy="592.7" r="4.85"/>
<circle cx="228.8" cy="560.7" r="4.85"/>
<circle cx="550.5" cy="563.5" r="4.85"/>
<circle cx="117.5" cy="453.7" r="4.85"/>
<circle cx="351.6" cy="507.6" r="4.85"/>
<circle cx="557.6" cy="537.6" r="4.85"/>
<circle cx="282.6" cy="576.0" r="4.85"/>
<circle cx="240.1" cy="525.4" r="4.85"/>
<circle cx="157.3" cy="571.4" r="4.85"/>
<circle cx="182.5" cy="559.0" r="4.85"/>
<circle cx="331.4" cy="538.8" r="4.85"/>
<circle cx="397.8" cy="484.7" r="4.85"/>
<circle cx="533.1" cy="527.1" r="4.85"/>
<circle cx="189.4" cy="412.7" r="4.85"/>
<circle cx="450.2" cy="432.4" r="4.85"/>
<circle cx="377.2" cy="591.2" r="4.85"/>
<circle cx="510.2" cy="538.0" r="4.85"/>
<circle cx="115.7" cy="548.6" r="4.85"/>
<circle cx="402.2" cy="549.5" r="4.85"/>
<circle cx="557.5" cy="570.2" r="4.85"/>
<circle cx="130.2" cy="533.2" r="4.85"/>
<circle cx="267.1" cy="548.7" r="4.85"/>
<circle cx="481.4" cy="555.3" r="4.85"/>
<circle cx="129.3" cy="562.2" r="4.85"/>
<circle cx="325.0" cy="541.2" r="4.85"/>
<circle cx="490.4" cy="383.2" r="4.85"/>
<circle cx="398.3" cy="566.7" r="4.85"/>
<circle cx="221.6" cy="574.9" r="4.85"/>
<circle cx="250.0" cy="545.2" r="4.85"/>
<circle cx="520.5" cy="382.2" r="4.85"/>
<circle cx="406.2" cy="526.2" r="4.85"/>
<circle cx="127.6" cy="544.7" r="4.85"/>
<circle cx="563.1" cy="531.7" r="4.85"/>
<circle cx="181.2" cy="529.7" r="4.85"/>
<circle cx="333.8" cy="507.2" r="4.85"/>
<circle cx="482.6" cy="576.2" r="4.85"/>
<circle cx="249.0" cy="555.8" r="4.85"/>
<circle cx="281.4" cy="524.1" r="4.85"/>
<circle cx="567.5" cy="568.7" r="4.85"/>
<circle cx="109.4" cy="547.9" r="4.85"/>
<circle cx="182.6" cy="536.1" r="4.85"/>
<circle cx="319.9" cy="378.8" r="4.85"/>
<circle cx="302.3" cy="568.4" r="4.85"/>
<circle cx="378.9" cy="540.2" r="4.85"/>
<circle cx="347.4" cy="413.3" r="4.85"/>
<circle cx="569.4" cy="562.5" r="4.85"/>
<circle cx="119.9" cy="512.9" r="4.85"/>
<circle cx="180.2" cy="542.6" r="4.85"/>
<circle cx="406.6" cy="558.8" r="4.85"/>
<circle cx="244.6" cy="540.8" r="4.85"/>
<circle cx="421.0" cy="566.6" r="4.85"/>
<circle cx="209.5" cy="402.9" r="4.85"/>
<circle cx="226.3" cy="522.7" r="4.85"/>
<circle cx="234.3" cy="512.5" r="4.85"/>
<circle cx="128.1" cy="563.9" r="4.85"/>
<circle cx="356.9" cy="559.7" r="4.85"/>
<circle cx="105.0" cy="547.0" r="4.85"/>
<circle cx="121.3" cy="530.9" r="4.85"/>
<circle cx="186.9" cy="511.5" r="4.85"/>
<circle cx="229.5" cy="519.6" r="4.85"/>
<circle cx="330.4" cy="573.1" r="4.85"/>
<circle cx="412.9" cy="536.9" r="4.85"/>
<circle cx="263.5" cy="523.9" r="4.85"/>
<circle cx="306.9" cy="510.6" r="4.85"/>
<circle cx="474.5" cy="542.3" r="4.85"/>
<circle cx="108.2" cy="575.1" r="4.85"/>
<circle cx="441.9" cy="525.8" r="4.85"/>
<circle cx="442.6" cy="449.4" r="4.85"/>
<circle cx="269.9" cy="527.1" r="4.85"/>
<circle cx="435.2" cy="422.3" r="4.85"/>
<circle cx="561.4" cy="547.2" r="4.85"/>
<circle cx="433.5" cy="527.3" r="4.85"/>
<circle cx="525.2" cy="527.9" r="4.85"/>
<circle cx="112.3" cy="573.8" r="4.85"/>
<circle cx="120.1" cy="568.5" r="4.85"/>
<circle cx="420.8" cy="540.0" r="4.85"/>
<circle cx="362.1" cy="432.0" r="4.85"/>
<circle cx="192.8" cy="435.8" r="4.85"/>
<circle cx="199.3" cy="553.3" r="4.85"/>
<circle cx="167.7" cy="552.3" r="4.85"/>
<circle cx="471.2" cy="559.4" r="4.85"/>
<circle cx="384.3" cy="533.8" r="4.85"/>
<circle cx="142.6" cy="535.4" r="4.85"/>
<circle cx="193.0" cy="560.5" r="4.85"/>
<circle cx="361.6" cy="510.3" r="4.85"/>
<circle cx="179.3" cy="540.6" r="4.85"/>
<circle cx="213.4" cy="526.4" r="4.85"/>
<circle cx="176.3" cy="549.3" r="4.85"/>
<circle cx="441.3" cy="519.9" r="4.85"/>
<circle cx="411.9" cy="522.6" r="4.85"/>
<circle cx="567.0" cy="566.2" r="4.85"/>
<circle cx="387.4" cy="564.2" r="4.85"/>
<circle cx="226.2" cy="585.1" r="4.85"/>
<circle cx="371.8" cy="593.4" r="4.85"/>
<circle cx="216.9" cy="417.3" r="4.85"/>
<circle cx="125.0" cy="565.9" r="4.85"/>
<circle cx="378.3" cy="567.7" r="4.85"/>
<circle cx="433.6" cy="536.3" r="4.85"/>
<circle cx="211.5" cy="559.4" r="4.85"/>
<circle cx="207.3" cy="578.7" r="4.85"/>
<circle cx="359.2" cy="586.9" r="4.85"/>
<circle cx="154.9" cy="558.7" r="4.85"/>
<circle cx="351.9" cy="501.4" r="4.85"/>
<circle cx="214.7" cy="507.3" r="4.85"/>
<circle cx="177.4" cy="536.0" r="4.85"/>
<circle cx="443.1" cy="546.4" r="4.85"/>
<circle cx="408.1" cy="570.1" r="4.85"/>
<circle cx="565.6" cy="555.1" r="4.85"/>
<circle cx="367.5" cy="583.0" r="4.85"/>
<circle cx="368.5" cy="590.2" r="4.85"/>
<circle cx="337.5" cy="509.5" r="4.85"/>
<circle cx="493.9" cy="521.8" r="4.85"/>
<circle cx="482.5" cy="567.5" r="4.85"/>
<circle cx="313.6" cy="556.2" r="4.85"/>
<circle cx="376.0" cy="586.3" r="4.85"/>
<circle cx="418.7" cy="518.8" r="4.85"/>
<circle cx="297.5" cy="554.3" r="4.85"/>
<circle cx="541.5" cy="564.8" r="4.85"/>
<circle cx="254.2" cy="534.5" r="4.85"/>
<circle cx="342.4" cy="404.7" r="4.85"/>
<circle cx="470.6" cy="535.5" r="4.85"/>
<circle cx="433.2" cy="434.4" r="4.85"/>
<circle cx="322.8" cy="552.5" r="4.85"/>
<circle cx="523.3" cy="537.5" r="4.85"/>
<circle cx="370.1" cy="534.3" r="4.85"/>
<circle cx="492.2" cy="562.0" r="4.85"/>
<circle cx="383.7" cy="580.1" r="4.85"/>
<circle cx="170.6" cy="528.8" r="4.85"/>
<circle cx="122.9" cy="521.9" r="4.85"/>
<circle cx="448.2" cy="583.0" r="4.85"/>
<circle cx="494.3" cy="529.1" r="4.85"/>
<circle cx="474.9" cy="373.1" r="4.85"/>
<circle cx="354.1" cy="553.7" r="4.85"/>
<circle cx="281.4" cy="545.2" r="4.85"/>
<circle cx="423.1" cy="599.7" r="4.85"/>
<circle cx="321.9" cy="555.0" r="4.85"/>
<circle cx="123.6" cy="526.3" r="4.85"/>
<circle cx="97.2" cy="545.6" r="4.85"/>
<circle cx="534.9" cy="563.7" r="4.85"/>
<circle cx="164.0" cy="574.1" r="4.85"/>
<circle cx="513.9" cy="546.8" r="4.85"/>
<circle cx="488.9" cy="535.9" r="4.85"/>
<circle cx="412.1" cy="573.6" r="4.85"/>
<circle cx="250.7" cy="547.3" r="4.85"/>
<circle cx="315.2" cy="550.6" r="4.85"/>
<circle cx="94.6" cy="439.8" r="4.85"/>
<circle cx="294.2" cy="546.5" r="4.85"/>
<circle cx="388.6" cy="561.6" r="4.85"/>
<circle cx="313.8" cy="504.0" r="4.85"/>
<circle cx="108.9" cy="547.4" r="4.85"/>
<circle cx="496.7" cy="530.5" r="4.85"/>
<circle cx="223.4" cy="535.5" r="4.85"/>
<circle cx="465.2" cy="555.0" r="4.85"/>
<circle cx="521.5" cy="512.1" r="4.85"/>
<circle cx="294.3" cy="544.6" r="4.85"/>
<circle cx="309.9" cy="557.3" r="4.85"/>
<circle cx="492.4" cy="539.3" r="4.85"/>
<circle cx="216.7" cy="539.2" r="4.85"/>
<circle cx="399.5" cy="517.4" r="4.85"/>
<circle cx="222.6" cy="520.2" r="4.85"/>
<circle cx="433.0" cy="540.4" r="4.85"/>
<circle cx="386.3" cy="536.6" r="4.85"/>
<circle cx="437.5" cy="562.1" r="4.85"/>
<circle cx="526.4" cy="550.6" r="4.85"/>
<circle cx="161.6" cy="544.6" r="4.85"/>
<circle cx="391.8" cy="569.6" r="4.85"/>
<circle cx="298.5" cy="511.5" r="4.85"/>
<circle cx="486.9" cy="507.5" r="4.85"/>
<circle cx="202.3" cy="531.8" r="4.85"/>
<circle cx="414.7" cy="527.6" r="4.85"/>
<circle cx="320.7" cy="523.5" r="4.85"/>
<circle cx="412.7" cy="516.2" r="4.85"/>
<circle cx="344.3" cy="558.7" r="4.85"/>
<circle cx="460.9" cy="569.5" r="4.85"/>
<circle cx="305.2" cy="551.3" r="4.85"/>
<circle cx="221.2" cy="560.7" r="4.85"/>
<circle cx="141.6" cy="556.7" r="4.85"/>
<circle cx="515.1" cy="531.3" r="4.85"/>
<circle cx="220.7" cy="573.1" r="4.85"/>
<circle cx="451.6" cy="504.8" r="4.85"/>
<circle cx="156.0" cy="592.2" r="4.85"/>
<circle cx="444.3" cy="542.8" r="4.85"/>
<circle cx="494.4" cy="525.8" r="4.85"/>
<circle cx="506.4" cy="537.5" r="4.85"/>
<circle cx="516.2" cy="546.3" r="4.85"/>
<circle cx="225.8" cy="510.2" r="4.85"/>
<circle cx="399.1" cy="515.8" r="4.85"/>
<circle cx="168.7" cy="510.7" r="4.85"/>
<circle cx="469.6" cy="555.1" r="4.85"/>
<circle cx="261.0" cy="582.0" r="4.85"/>
<circle cx="343.4" cy="558.8" r="4.85"/>
<circle cx="212.2" cy="608.0" r="4.85"/>
<circle cx="517.9" cy="473.5" r="4.85"/>
<circle cx="537.5" cy="528.6" r="4.85"/>
<circle cx="113.3" cy="527.8" r="4.85"/>
<circle cx="327.2" cy="537.7" r="4.85"/>
<circle cx="551.8" cy="528.4" r="4.85"/>
<circle cx="378.0" cy="417.7" r="4.85"/>
<circle cx="424.1" cy="538.8" r="4.85"/>
<circle cx="358.4" cy="566.2" r="4.85"/>
<circle cx="388.0" cy="525.0" r="4.85"/>
<circle cx="273.3" cy="545.1" r="4.85"/>
<circle cx="181.9" cy="578.3" r="4.85"/>
<circle cx="406.6" cy="538.3" r="4.85"/>
<circle cx="539.2" cy="533.7" r="4.85"/>
<circle cx="426.3" cy="537.2" r="4.85"/>
<circle cx="499.8" cy="544.3" r="4.85"/>
<circle cx="106.1" cy="592.9" r="4.85"/>
<circle cx="229.2" cy="516.9" r="4.85"/>
<circle cx="408.4" cy="552.7" r="4.85"/>
<circle cx="246.0" cy="516.5" r="4.85"/>
<circle cx="310.6" cy="566.8" r="4.85"/>
<circle cx="475.5" cy="531.5" r="4.85"/>
<circle cx="476.1" cy="539.7" r="4.85"/>
<circle cx="396.6" cy="513.0" r="4.85"/>
<circle cx="381.6" cy="573.1" r="4.85"/>
<circle cx="392.4" cy="586.6" r="4.85"/>
<circle cx="457.7" cy="454.1" r="4.85"/>
<circle cx="438.0" cy="529.3" r="4.85"/>
<circle cx="327.4" cy="602.4" r="4.85"/>
<circle cx="130.1" cy="559.3" r="4.85"/>
<circle cx="134.4" cy="516.3" r="4.85"/>
<circle cx="356.6" cy="555.7" r="4.85"/>
<circle cx="482.8" cy="547.1" r="4.85"/>
<circle cx="366.0" cy="582.6" r="4.85"/>
<circle cx="337.1" cy="556.4" r="4.85"/>
<circle cx="319.1" cy="543.1" r="4.85"/>
<circle cx="502.2" cy="510.3" r="4.85"/>
<circle cx="532.9" cy="519.5" r="4.85"/>
<circle cx="512.2" cy="507.9" r="4.85"/>
<circle cx="384.7" cy="540.7" r="4.85"/>
<circle cx="380.8" cy="569.7" r="4.85"/>
<circle cx="416.4" cy="579.5" r="4.85"/>
<circle cx="168.2" cy="530.8" r="4.85"/>
<circle cx="190.3" cy="531.5" r="4.85"/>
<circle cx="534.3" cy="533.6" r="4.85"/>
<circle cx="239.5" cy="510.0" r="4.85"/>
<circle cx="256.8" cy="538.9" r="4.85"/>
<circle cx="332.1" cy="542.4" r="4.85"/>
<circle cx="213.9" cy="500.9" r="4.85"/>
<circle cx="130.4" cy="567.9" r="4.85"/>
<circle cx="557.2" cy="550.1" r="4.85"/>
<circle cx="195.7" cy="536.1" r="4.85"/>
<circle cx="182.6" cy="515.8" r="4.85"/>
<circle cx="350.0" cy="520.0" r="4.85"/>
<circle cx="167.1" cy="558.4" r="4.85"/>
<circle cx="564.2" cy="557.5" r="4.85"/>
<circle cx="413.2" cy="577.0" r="4.85"/>
<circle cx="465.3" cy="413.9" r="4.85"/>
<circle cx="348.2" cy="557.8" r="4.85"/>
<circle cx="208.7" cy="518.3" r="4.85"/>
<circle cx="348.8" cy="575.9" r="4.85"/>
<circle cx="533.2" cy="555.9" r="4.85"/>
<circle cx="115.1" cy="552.6" r="4.85"/>
<circle cx="528.0" cy="535.9" r="4.85"/>
<circle cx="319.6" cy="583.0" r="4.85"/>
<circle cx="329.9" cy="562.8" r="4.85"/>
<circle cx="484.3" cy="561.8" r="4.85"/>
<circle cx="174.7" cy="514.4" r="4.85"/>
<circle cx="310.2" cy="519.5" r="4.85"/>
<circle cx="232.7" cy="520.7" r="4.85"/>
<circle cx="137.8" cy="530.0" r="4.85"/>
<circle cx="222.5" cy="498.2" r="4.85"/>
<circle cx="358.7" cy="551.6" r="4.85"/>
<circle cx="102.7" cy="556.9" r="4.85"/>
<circle cx="182.4" cy="387.2" r="4.85"/>
<circle cx="187.8" cy="561.8" r="4.85"/>
<circle cx="552.1" cy="557.1" r="4.85"/>
<circle cx="210.5" cy="553.0" r="4.85"/>
<circle cx="106.8" cy="572.8" r="4.85"/>
<circle cx="338.2" cy="542.0" r="4.85"/>
<circle cx="505.0" cy="461.5" r="4.85"/>
<circle cx="267.8" cy="527.8" r="4.85"/>
<circle cx="160.0" cy="596.1" r="4.85"/>
<circle cx="424.7" cy="552.5" r="4.85"/>
<circle cx="285.5" cy="557.9" r="4.85"/>
<circle cx="470.9" cy="562.1" r="4.85"/>
<circle cx="208.3" cy="529.1" r="4.85"/>
<circle cx="173.2" cy="541.2" r="4.85"/>
<circle cx="495.1" cy="520.3" r="4.85"/>
<circle cx="517.2" cy="522.3" r="4.85"/>
<circle cx="450.8" cy="550.2" r="4.85"/>
<circle cx="201.7" cy="521.4" r="4.85"/>
<circle cx="132.6" cy="496.7" r="4.85"/>
<circle cx="298.1" cy="562.7" r="4.85"/>
<circle cx="221.6" cy="560.2" r="4.85"/>
<circle cx="114.6" cy="551.1" r="4.85"/>
<circle cx="277.9" cy="544.9" r="4.85"/>
<circle cx="528.0" cy="543.1" r="4.85"/>
<circle cx="172.8" cy="404.7" r="4.85"/>
<circle cx="335.0" cy="544.2" r="4.85"/>
<circle cx="296.8" cy="578.5" r="4.85"/>
<circle cx="445.0" cy="538.9" r="4.85"/>
<circle cx="155.0" cy="552.8" r="4.85"/>
<circle cx="536.9" cy="529.7" r="4.85"/>
<circle cx="377.7" cy="519.2" r="4.85"/>
<circle cx="242.3" cy="584.0" r="4.85"/>
<circle cx="380.8" cy="558.2" r="4.85"/>
<circle cx="151.4" cy="547.8" r="4.85"/>
<circle cx="148.3" cy="554.2" r="4.85"/>
<circle cx="291.0" cy="565.5" r="4.85"/>
<circle cx="173.1" cy="537.4" r="4.85"/>
<circle cx="107.1" cy="516.3" r="4.85"/>
<circle cx="500.5" cy="489.9" r="4.85"/>
<circle cx="492.6" cy="601.8" r="4.85"/>
<circle cx="280.1" cy="555.4" r="4.85"/>
<circle cx="542.4" cy="544.3" r="4.85"/>
<circle cx="388.4" cy="535.8" r="4.85"/>
<circle cx="242.3" cy="611.9" r="4.85"/>
<circle cx="341.2" cy="551.5" r="4.85"/>
<circle cx="398.6" cy="476.5" r="4.85"/>
<circle cx="430.4" cy="484.7" r="4.85"/>
<circle cx="234.6" cy="564.7" r="4.85"/>
<circle cx="551.6" cy="554.3" r="4.85"/>
<circle cx="554.4" cy="532.4" r="4.85"/>
<circle cx="241.2" cy="536.2" r="4.85"/>
<circle cx="197.8" cy="540.6" r="4.85"/>
<circle cx="565.1" cy="523.9" r="4.85"/>
<circle cx="192.3" cy="518.8" r="4.85"/>
<circle cx="97.4" cy="513.2" r="4.85"/>
<circle cx="332.4" cy="533.9" r="4.85"/>
<circle cx="204.3" cy="543.2" r="4.85"/>
<circle cx="455.2" cy="401.2" r="4.85"/>
<circle cx="477.0" cy="520.1" r="4.85"/>
<circle cx="190.8" cy="539.9" r="4.85"/>
<circle cx="294.3" cy="538.7" r="4.85"/>
<circle cx="122.6" cy="530.0" r="4.85"/>
<circle cx="455.7" cy="566.6" r="4.85"/>
<circle cx="484.6" cy="545.6" r="4.85"/>
<circle cx="459.2" cy="530.4" r="4.85"/>
<circle cx="557.1" cy="530.6" r="4.85"/>
<circle cx="470.6" cy="582.5" r="4.85"/>
<circle cx="120.0" cy="548.5" r="4.85"/>
<circle cx="269.0" cy="561.4" r="4.85"/>
<circle cx="478.1" cy="540.3" r="4.85"/>
<circle cx="474.6" cy="553.5" r="4.85"/>
<circle cx="474.0" cy="525.5" r="4.85"/>
<circle cx="247.7" cy="546.4" r="4.85"/>
<circle cx="414.6" cy="554.0" r="4.85"/>
<circle cx="152.4" cy="517.0" r="4.85"/>
<circle cx="538.0" cy="533.2" r="4.85"/>
<circle cx="540.7" cy="520.7" r="4.85"/>
<circle cx="264.2" cy="514.2" r="4.85"/>
<circle cx="177.8" cy="516.4" r="4.85"/>
<circle cx="472.6" cy="521.3" r="4.85"/>
<circle cx="466.3" cy="538.1" r="4.85"/>
<circle cx="170.3" cy="453.0" r="4.85"/>
<circle cx="142.6" cy="429.4" r="4.85"/>
<circle cx="115.7" cy="541.0" r="4.85"/>
<circle cx="196.4" cy="535.0" r="4.85"/>
<circle cx="363.9" cy="525.2" r="4.85"/>
<circle cx="425.4" cy="522.5" r="4.85"/>
<circle cx="385.5" cy="567.5" r="4.85"/>
<circle cx="149.2" cy="538.6" r="4.85"/>
<circle cx="430.0" cy="570.8" r="4.85"/>
<circle cx="389.7" cy="575.8" r="4.85"/>
<circle cx="222.8" cy="579.0" r="4.85"/>
<circle cx="149.8" cy="589.5" r="4.85"/>
<circle cx="207.7" cy="596.1" r="4.85"/>
<circle cx="274.4" cy="542.0" r="4.85"/>
<circle cx="315.1" cy="540.7" r="4.85"/>
<circle cx="296.0" cy="543.4" r="4.85"/>
<circle cx="370.1" cy="490.9" r="4.85"/>
<circle cx="402.3" cy="560.6" r="4.85"/>
<circle cx="259.3" cy="531.4" r="4.85"/>
<circle cx="184.8" cy="427.3" r="4.85"/>
<circle cx="422.4" cy="528.2" r="4.85"/>
<circle cx="419.5" cy="530.8" r="4.85"/>
<circle cx="428.8" cy="569.6" r="4.85"/>
<circle cx="495.7" cy="528.9" r="4.85"/>
<circle cx="131.0" cy="567.2" r="4.85"/>
<circle cx="137.9" cy="562.3" r="4.85"/>
<circle cx="142.9" cy="586.6" r="4.85"/>
<circle cx="231.8" cy="528.7" r="4.85"/>
<circle cx="543.6" cy="555.3" r="4.85"/>
<circle cx="205.1" cy="517.2" r="4.85"/>
<circle cx="121.7" cy="539.4" r="4.85"/>
<circle cx="357.7" cy="567.1" r="4.85"/>
<circle cx="466.4" cy="569.4" r="4.85"/>
<circle cx="364.1" cy="559.6" r="4.85"/>
<circle cx="387.6" cy="410.7" r="4.85"/>
<circle cx="202.8" cy="567.3" r="4.85"/>
<circle cx="376.5" cy="578.1" r="4.85"/>
<circle cx="348.0" cy="567.5" r="4.85"/>
<circle cx="377.5" cy="548.6" r="4.85"/>
<circle cx="376.3" cy="553.4" r="4.85"/>
<circle cx="297.6" cy="439.4" r="4.85"/>
<circle cx="509.6" cy="536.4" r="4.85"/>
<circle cx="509.5" cy="527.3" r="4.85"/>
<circle cx="488.7" cy="529.2" r="4.85"/>
<circle cx="193.6" cy="560.2" r="4.85"/>
<circle cx="262.5" cy="493.7" r="4.85"/>
<circle cx="559.4" cy="548.4" r="4.85"/>
<circle cx="306.2" cy="559.9" r="4.85"/>
<circle cx="344.8" cy="507.2" r="4.85"/>
<circle cx="544.7" cy="537.5" r="4.85"/>
<circle cx="536.4" cy="538.8" r="4.85"/>
<circle cx="147.3" cy="544.8" r="4.85"/>
<circle cx="349.2" cy="571.7" r="4.85"/>
<circle cx="184.5" cy="564.5" r="4.85"/>
<circle cx="464.4" cy="563.6" r="4.85"/>
<circle cx="140.2" cy="553.1" r="4.85"/>
<circle cx="394.4" cy="547.6" r="4.85"/>
<circle cx="293.7" cy="511.4" r="4.85"/>
<circle cx="424.5" cy="552.5" r="4.85"/>
<circle cx="115.2" cy="552.4" r="4.85"/>
<circle cx="368.3" cy="533.2" r="4.85"/>
<circle cx="328.6" cy="544.8" r="4.85"/>
<circle cx="337.8" cy="467.1" r="4.85"/>
<circle cx="318.1" cy="522.1" r="4.85"/>
<circle cx="243.3" cy="503.0" r="4.85"/>
<circle cx="459.5" cy="583.8" r="4.85"/>
<circle cx="434.4" cy="528.6" r="4.85"/>
<circle cx="495.8" cy="525.3" r="4.85"/>
<circle cx="451.2" cy="573.5" r="4.85"/>
<circle cx="113.4" cy="521.8" r="4.85"/>
<circle cx="556.6" cy="547.0" r="4.85"/>
<circle cx="290.2" cy="557.6" r="4.85"/>
<circle cx="193.5" cy="518.2" r="4.85"/>
<circle cx="414.8" cy="579.0" r="4.85"/>
<circle cx="260.0" cy="568.8" r="4.85"/>
<circle cx="423.3" cy="520.9" r="4.85"/>
<circle cx="509.3" cy="537.0" r="4.85"/>
<circle cx="329.0" cy="506.3" r="4.85"/>
<circle cx="353.6" cy="557.7" r="4.85"/>
<circle cx="158.9" cy="513.7" r="4.85"/>
<circle cx="526.8" cy="512.0" r="4.85"/>
<circle cx="344.5" cy="538.8" r="4.85"/>
<circle cx="360.9" cy="530.6" r="4.85"/>
<circle cx="442.6" cy="557.0" r="4.85"/>
<circle cx="338.6" cy="581.5" r="4.85"/>
<circle cx="137.5" cy="543.8" r="4.85"/>
<circle cx="215.4" cy="562.7" r="4.85"/>
<circle cx="360.3" cy="578.2" r="4.85"/>
<circle cx="349.4" cy="537.5" r="4.85"/>
<circle cx="254.7" cy="511.2" r="4.85"/>
<circle cx="355.4" cy="522.0" r="4.85"/>
<circle cx="105.7" cy="573.7" r="4.85"/>
<circle cx="171.1" cy="539.6" r="4.85"/>
<circle cx="415.6" cy="549.9" r="4.85"/>
<circle cx="552.9" cy="547.0" r="4.85"/>
<circle cx="281.0" cy="565.5" r="4.85"/>
<circle cx="421.6" cy="566.3" r="4.85"/>
<circle cx="441.8" cy="482.2" r="4.85"/>
<circle cx="561.4" cy="554.4" r="4.85"/>
<circle cx="379.9" cy="544.9" r="4.85"/>
<circle cx="221.5" cy="527.9" r="4.85"/>
<circle cx="505.5" cy="507.1" r="4.85"/>
<circle cx="426.0" cy="545.4" r="4.85"/>
<circle cx="344.2" cy="513.2" r="4.85"/>
<circle cx="159.9" cy="403.3" r="4.85"/>
<circle cx="170.3" cy="485.7" r="4.85"/>
<circle cx="373.5" cy="386.6" r="4.85"/>
<circle cx="228.8" cy="516.8" r="4.85"/>
<circle cx="450.9" cy="577.4" r="4.85"/>
<circle cx="178.4" cy="518.7" r="4.85"/>
<circle cx="404.9" cy="575.9" r="4.85"/>
<circle cx="178.4" cy="541.2" r="4.85"/>
<circle cx="389.2" cy="565.1" r="4.85"/>
<circle cx="163.2" cy="532.1" r="4.85"/>
<circle cx="210.3" cy="570.0" r="4.85"/>
<circle cx="153.5" cy="514.6" r="4.85"/>
<circle cx="560.1" cy="547.9" r="4.85"/>
<circle cx="516.1" cy="540.7" r="4.85"/>
<circle cx="96.3" cy="530.6" r="4.85"/>
<circle cx="567.8" cy="436.6" r="4.85"/>
<circle cx="251.1" cy="540.0" r="4.85"/>
<circle cx="343.3" cy="526.2" r="4.85"/>
<circle cx="369.6" cy="548.4" r="4.85"/>
<circle cx="207.9" cy="503.5" r="4.85"/>
<circle cx="251.2" cy="543.6" r="4.85"/>
<circle cx="126.2" cy="536.6" r="4.85"/>
<circle cx="335.8" cy="537.3" r="4.85"/>
<circle cx="464.9" cy="528.6" r="4.85"/>
<circle cx="231.6" cy="530.1" r="4.85"/>
<circle cx="380.2" cy="450.8" r="4.85"/>
<circle cx="184.1" cy="572.3" r="4.85"/>
<circle cx="330.6" cy="526.5" r="4.85"/>
<circle cx="500.3" cy="530.3" r="4.85"/>
<circle cx="474.7" cy="523.8" r="4.85"/>
<circle cx="552.4" cy="566.3" r="4.85"/>
<circle cx="385.1" cy="527.9" r="4.85"/>
<circle cx="442.6" cy="421.3" r="4.85"/>
<circle cx="298.6" cy="561.1" r="4.85"/>
<circle cx="312.2" cy="516.3" r="4.85"/>
<circle cx="212.7" cy="531.5" r="4.85"/>
<circle cx="436.8" cy="568.6" r="4.85"/>
<circle cx="160.2" cy="528.8" r="4.85"/>
<circle cx="442.6" cy="429.4" r="4.85"/>
<circle cx="458.8" cy="566.1" r="4.85"/>
<circle cx="112.4" cy="553.8" r="4.85"/>
<circle cx="512.7" cy="546.5" r="4.85"/>
<circle cx="564.4" cy="551.1" r="4.85"/>
<circle cx="412.5" cy="484.7" r="4.85"/>
<circle cx="480.8" cy="545.4" r="4.85"/>
<circle cx="255.6" cy="583.5" r="4.85"/>
<circle cx="420.6" cy="540.3" r="4.85"/>
<circle cx="413.9" cy="523.7" r="4.85"/>
<circle cx="385.7" cy="569.4" r="4.85"/>
<circle cx="135.6" cy="585.9" r="4.85"/>
<circle cx="514.9" cy="468.5" r="4.85"/>
<circle cx="305.6" cy="529.4" r="4.85"/>
<circle cx="531.1" cy="528.7" r="4.85"/>
<circle cx="295.0" cy="539.8" r="4.85"/>
<circle cx="270.0" cy="509.5" r="4.85"/>
<circle cx="117.2" cy="578.7" r="4.85"/>
<circle cx="254.8" cy="552.9" r="4.85"/>
<circle cx="510.8" cy="536.5" r="4.85"/>
<circle cx="549.3" cy="524.7" r="4.85"/>
<circle cx="201.8" cy="566.0" r="4.85"/>
<circle cx="464.9" cy="550.2" r="4.85"/>
<circle cx="268.8" cy="562.5" r="4.85"/>
<circle cx="420.8" cy="574.7" r="4.85"/>
<circle cx="476.7" cy="539.1" r="4.85"/>
<circle cx="363.4" cy="558.3" r="4.85"/>
<circle cx="480.9" cy="564.6" r="4.85"/>
<circle cx="524.0" cy="523.9" r="4.85"/>
<circle cx="535.5" cy="534.2" r="4.85"/>
<circle cx="425.1" cy="409.3" r="4.85"/>
<circle cx="411.9" cy="520.6" r="4.85"/>
<circle cx="531.1" cy="531.0" r="4.85"/>
<circle cx="273.7" cy="518.7" r="4.85"/>
<circle cx="422.0" cy="525.7" r="4.85"/>
<circle cx="503.7" cy="561.0" r="4.85"/>
<circle cx="271.3" cy="567.6" r="4.85"/>
<circle cx="417.2" cy="513.9" r="4.85"/>
<circle cx="485.4" cy="388.2" r="4.85"/>
<circle cx="212.3" cy="557.3" r="4.85"/>
<circle cx="205.1" cy="443.8" r="4.85"/>
<circle cx="225.0" cy="609.5" r="4.85"/>
<circle cx="465.2" cy="485.5" r="4.85"/>
<circle cx="268.1" cy="419.3" r="4.85"/>
<circle cx="368.2" cy="565.9" r="4.85"/>
<circle cx="525.6" cy="556.9" r="4.85"/>
<circle cx="309.2" cy="543.6" r="4.85"/>
<circle cx="362.4" cy="557.7" r="4.85"/>
<circle cx="359.9" cy="478.6" r="4.85"/>
<circle cx="222.1" cy="414.3" r="4.85"/>
<circle cx="158.0" cy="537.5" r="4.85"/>
<circle cx="462.6" cy="548.4" r="4.85"/>
<circle cx="299.0" cy="555.5" r="4.85"/>
<circle cx="475.3" cy="442.0" r="4.85"/>
<circle cx="530.2" cy="533.5" r="4.85"/>
<circle cx="484.4" cy="557.3" r="4.85"/>
<circle cx="143.6" cy="580.9" r="4.85"/>
<circle cx="505.9" cy="559.4" r="4.85"/>
<circle cx="103.0" cy="584.0" r="4.85"/>
<circle cx="233.8" cy="561.7" r="4.85"/>
<circle cx="157.9" cy="552.3" r="4.85"/>
<circle cx="142.6" cy="591.3" r="4.85"/>
<circle cx="342.6" cy="541.4" r="4.85"/>
<circle cx="153.1" cy="580.7" r="4.85"/>
<circle cx="465.3" cy="451.4" r="4.85"/>
<circle cx="392.7" cy="535.7" r="4.85"/>
<circle cx="395.7" cy="517.4" r="4.85"/>
<circle cx="323.0" cy="518.9" r="4.85"/>
<circle cx="133.0" cy="515.6" r="4.85"/>
<circle cx="130.4" cy="557.4" r="4.85"/>
<circle cx="105.0" cy="543.6" r="4.85"/>
<circle cx="275.3" cy="539.6" r="4.85"/>
<circle cx="271.0" cy="553.4" r="4.85"/>
<circle cx="243.3" cy="571.8" r="4.85"/>
<circle cx="105.8" cy="543.4" r="4.85"/>
<circle cx="336.6" cy="536.5" r="4.85"/>
<circle cx="369.0" cy="532.5" r="4.85"/>
<circle cx="99.7" cy="430.8" r="4.85"/>
<circle cx="389.5" cy="564.2" r="4.85"/>
<circle cx="256.5" cy="538.4" r="4.85"/>
<circle cx="334.9" cy="570.6" r="4.85"/>
<circle cx="415.5" cy="553.1" r="4.85"/>
<circle cx="114.1" cy="543.1" r="4.85"/>
<circle cx="168.3" cy="514.9" r="4.85"/>
<circle cx="327.9" cy="542.1" r="4.85"/>
<circle cx="438.5" cy="518.3" r="4.85"/>
<circle cx="467.7" cy="394.6" r="4.85"/>
<circle cx="321.3" cy="561.4" r="4.85"/>
<circle cx="265.7" cy="420.3" r="4.85"/>
<circle cx="365.2" cy="568.1" r="4.85"/>
<circle cx="296.4" cy="527.8" r="4.85"/>
<circle cx="429.6" cy="576.1" r="4.85"/>
<circle cx="307.7" cy="410.3" r="4.85"/>
<circle cx="102.9" cy="546.3" r="4.85"/>
<circle cx="362.4" cy="604.1" r="4.85"/>
<circle cx="557.7" cy="547.6" r="4.85"/>
<circle cx="125.3" cy="543.6" r="4.85"/>
<circle cx="353.3" cy="515.7" r="4.85"/>
<circle cx="260.3" cy="554.5" r="4.85"/>
<circle cx="255.1" cy="424.7" r="4.85"/>
<circle cx="97.8" cy="569.4" r="4.85"/>
<circle cx="199.5" cy="537.8" r="4.85"/>
<circle cx="167.3" cy="497.6" r="4.85"/>
<circle cx="462.2" cy="487.9" r="4.85"/>
<circle cx="425.7" cy="512.4" r="4.85"/>
<circle cx="279.9" cy="524.3" r="4.85"/>
<circle cx="420.0" cy="530.5" r="4.85"/>
<circle cx="263.2" cy="543.5" r="4.85"/>
<circle cx="308.4" cy="538.8" r="4.85"/>
<circle cx="272.4" cy="542.5" r="4.85"/>
<circle cx="200.1" cy="518.8" r="4.85"/>
<circle cx="464.1" cy="523.2" r="4.85"/>
<circle cx="366.0" cy="523.7" r="4.85"/>
<circle cx="422.9" cy="541.7" r="4.85"/>
<circle cx="192.2" cy="515.9" r="4.85"/>
<circle cx="317.6" cy="501.8" r="4.85"/>
<circle cx="363.9" cy="563.6" r="4.85"/>
<circle cx="114.6" cy="534.8" r="4.85"/>
<circle cx="485.8" cy="542.0" r="4.85"/>
<circle cx="435.3" cy="545.9" r="4.85"/>
<circle cx="302.8" cy="557.6" r="4.85"/>
<circle cx="96.5" cy="582.4" r="4.85"/>
<circle cx="522.9" cy="405.9" r="4.85"/>
<circle cx="333.2" cy="571.2" r="4.85"/>
<circle cx="490.6" cy="567.3" r="4.85"/>
<circle cx="527.2" cy="537.8" r="4.85"/>
<circle cx="156.4" cy="566.5" r="4.85"/>
<circle cx="253.0" cy="550.2" r="4.85"/>
<circle cx="132.3" cy="568.2" r="4.85"/>
<circle cx="172.8" cy="416.7" r="4.85"/>
<circle cx="444.0" cy="585.8" r="4.85"/>
<circle cx="464.5" cy="561.0" r="4.85"/>
<circle cx="212.8" cy="556.1" r="4.85"/>
<circle cx="200.2" cy="561.4" r="4.85"/>
<circle cx="169.3" cy="542.6" r="4.85"/>
<circle cx="468.2" cy="523.0" r="4.85"/>
<circle cx="320.3" cy="557.3" r="4.85"/>
<circle cx="350.2" cy="575.8" r="4.85"/>
<circle cx="355.0" cy="586.7" r="4.85"/>
<circle cx="297.3" cy="556.8" r="4.85"/>
<circle cx="567.1" cy="552.8" r="4.85"/>
<circle cx="541.3" cy="549.3" r="4.85"/>
<circle cx="437.1" cy="585.6" r="4.85"/>
<circle cx="401.9" cy="542.2" r="4.85"/>
<circle cx="565.1" cy="557.1" r="4.85"/>
<circle cx="524.6" cy="532.8" r="4.85"/>
<circle cx="507.7" cy="536.8" r="4.85"/>
<circle cx="177.9" cy="544.4" r="4.85"/>
<circle cx="381.8" cy="556.1" r="4.85"/>
<circle cx="404.1" cy="541.2" r="4.85"/>
<circle cx="144.7" cy="533.1" r="4.85"/>
<circle cx="474.9" cy="539.8" r="4.85"/>
<circle cx="244.1" cy="574.9" r="4.85"/>
<circle cx="334.1" cy="506.4" r="4.85"/>
<circle cx="454.4" cy="561.2" r="4.85"/>
<circle cx="351.1" cy="567.9" r="4.85"/>
<circle cx="313.2" cy="558.4" r="4.85"/>
<circle cx="508.7" cy="545.2" r="4.85"/>
<circle cx="166.1" cy="580.7" r="4.85"/>
<circle cx="290.0" cy="549.3" r="4.85"/>
<circle cx="410.9" cy="565.8" r="4.85"/>
<circle cx="338.7" cy="548.2" r="4.85"/>
<circle cx="502.8" cy="471.5" r="4.85"/>
<circle cx="230.0" cy="397.2" r="4.85"/>
<circle cx="138.6" cy="550.9" r="4.85"/>
<circle cx="424.6" cy="578.6" r="4.85"/>
<circle cx="286.2" cy="551.5" r="4.85"/>
<circle cx="462.2" cy="538.5" r="4.85"/>
<circle cx="133.7" cy="553.7" r="4.85"/>
<circle cx="149.8" cy="582.1" r="4.85"/>
<circle cx="349.6" cy="545.8" r="4.85"/>
<circle cx="459.0" cy="563.5" r="4.85"/>
<circle cx="328.6" cy="560.1" r="4.85"/>
<circle cx="145.4" cy="559.0" r="4.85"/>
<circle cx="499.0" cy="533.7" r="4.85"/>
<circle cx="371.0" cy="540.3" r="4.85"/>
<circle cx="523.2" cy="380.8" r="4.85"/>
<circle cx="147.2" cy="441.0" r="4.85"/>
<circle cx="291.7" cy="514.9" r="4.85"/>
<circle cx="514.7" cy="515.2" r="4.85"/>
<circle cx="176.7" cy="540.0" r="4.85"/>
<circle cx="456.9" cy="547.9" r="4.85"/>
<circle cx="302.4" cy="532.4" r="4.85"/>
<circle cx="179.5" cy="522.3" r="4.85"/>
<circle cx="340.1" cy="557.0" r="4.85"/>
<circle cx="258.2" cy="549.5" r="4.85"/>
<circle cx="319.6" cy="567.1" r="4.85"/>
<circle cx="262.8" cy="526.4" r="4.85"/>
<circle cx="154.2" cy="532.7" r="4.85"/>
<circle cx="396.6" cy="554.1" r="4.85"/>
<circle cx="427.7" cy="530.4" r="4.85"/>
<circle cx="146.5" cy="581.5" r="4.85"/>
<circle cx="210.4" cy="513.3" r="4.85"/>
<circle cx="214.5" cy="536.0" r="4.85"/>
<circle cx="151.1" cy="580.2" r="4.85"/>
<circle cx="213.9" cy="582.3" r="4.85"/>
<circle cx="443.3" cy="545.7" r="4.85"/>
<circle cx="203.6" cy="558.6" r="4.85"/>
<circle cx="327.8" cy="504.9" r="4.85"/>
<circle cx="149.9" cy="544.7" r="4.85"/>
<circle cx="397.9" cy="535.3" r="4.85"/>
<circle cx="220.1" cy="510.9" r="4.85"/>
<circle cx="485.3" cy="559.5" r="4.85"/>
<circle cx="231.4" cy="512.9" r="4.85"/>
<circle cx="317.5" cy="534.5" r="4.85"/>
<circle cx="352.4" cy="409.7" r="4.85"/>
<circle cx="440.1" cy="538.6" r="4.85"/>
<circle cx="260.3" cy="537.0" r="4.85"/>
<circle cx="283.1" cy="562.1" r="4.85"/>
<circle cx="403.9" cy="537.1" r="4.85"/>
<circle cx="109.7" cy="529.3" r="4.85"/>
<circle cx="98.2" cy="563.4" r="4.85"/>
<circle cx="185.4" cy="521.2" r="4.85"/>
<circle cx="400.2" cy="548.0" r="4.85"/>
<circle cx="323.5" cy="560.1" r="4.85"/>
<circle cx="509.0" cy="544.8" r="4.85"/>
<circle cx="161.7" cy="561.0" r="4.85"/>
<circle cx="163.8" cy="549.8" r="4.85"/>
<circle cx="375.5" cy="547.4" r="4.85"/>
<circle cx="143.4" cy="514.5" r="4.85"/>
<circle cx="97.3" cy="592.7" r="4.85"/>
<circle cx="544.6" cy="532.6" r="4.85"/>
<circle cx="316.3" cy="546.0" r="4.85"/>
<circle cx="247.9" cy="528.6" r="4.85"/>
<circle cx="399.6" cy="541.6" r="4.85"/>
<circle cx="307.0" cy="525.2" r="4.85"/>
<circle cx="519.4" cy="527.1" r="4.85"/>
<circle cx="520.5" cy="388.2" r="4.85"/>
<circle cx="502.1" cy="561.9" r="4.85"/>
<circle cx="321.4" cy="545.5" r="4.85"/>
<circle cx="171.2" cy="563.3" r="4.85"/>
<circle cx="125.4" cy="539.3" r="4.85"/>
<circle cx="391.4" cy="539.5" r="4.85"/>
<circle cx="371.7" cy="557.1" r="4.85"/>
<circle cx="447.1" cy="554.9" r="4.85"/>
<circle cx="473.3" cy="450.0" r="4.85"/>
<circle cx="493.5" cy="561.0" r="4.85"/>
<circle cx="538.2" cy="527.2" r="4.85"/>
<circle cx="458.0" cy="581.5" r="4.85"/>
<circle cx="342.4" cy="398.8" r="4.85"/>
<circle cx="414.3" cy="555.8" r="4.85"/>
<circle cx="444.6" cy="574.0" r="4.85"/>
<circle cx="482.8" cy="394.2" r="4.85"/>
<circle cx="339.9" cy="520.4" r="4.85"/>
<circle cx="270.4" cy="554.1" r="4.85"/>
<circle cx="362.5" cy="550.5" r="4.85"/>
<circle cx="560.2" cy="405.9" r="4.85"/>
<circle cx="435.2" cy="511.8" r="4.85"/>
<circle cx="187.7" cy="505.3" r="4.85"/>
<circle cx="217.4" cy="504.6" r="4.85"/>
<circle cx="494.8" cy="539.8" r="4.85"/>
<circle cx="436.5" cy="545.5" r="4.85"/>
<circle cx="135.6" cy="552.7" r="4.85"/>
<circle cx="169.9" cy="522.5" r="4.85"/>
<circle cx="506.3" cy="534.3" r="4.85"/>
<circle cx="274.7" cy="542.9" r="4.85"/>
<circle cx="439.0" cy="566.6" r="4.85"/>
<circle cx="147.2" cy="501.6" r="4.85"/>
<circle cx="132.8" cy="565.2" r="4.85"/>
<circle cx="542.7" cy="588.3" r="4.85"/>
<circle cx="401.1" cy="557.1" r="4.85"/>
<circle cx="500.4" cy="399.8" r="4.85"/>
<circle cx="331.3" cy="574.4" r="4.85"/>
<circle cx="500.8" cy="527.3" r="4.85"/>
<circle cx="477.2" cy="507.8" r="4.85"/>
<circle cx="475.3" cy="578.1" r="4.85"/>
<circle cx="480.3" cy="452.9" r="4.85"/>
<circle cx="126.3" cy="534.6" r="4.85"/>
<circle cx="451.1" cy="561.6" r="4.85"/>
<circle cx="121.1" cy="553.5" r="4.85"/>
<circle cx="284.8" cy="516.6" r="4.85"/>
<circle cx="104.4" cy="564.7" r="4.85"/>
<circle cx="112.5" cy="425.1" r="4.85"/>
<circle cx="518.2" cy="515.1" r="4.85"/>
<circle cx="108.8" cy="577.8" r="4.85"/>
<circle cx="309.6" cy="529.9" r="4.85"/>
<circle cx="560.8" cy="528.3" r="4.85"/>
<circle cx="524.0" cy="529.4" r="4.85"/>
<circle cx="228.0" cy="575.3" r="4.85"/>
<circle cx="391.8" cy="577.3" r="4.85"/>
<circle cx="292.5" cy="516.0" r="4.85"/>
<circle cx="157.3" cy="505.8" r="4.85"/>
<circle cx="529.2" cy="534.7" r="4.85"/>
<circle cx="133.1" cy="568.5" r="4.85"/>
<circle cx="281.4" cy="549.3" r="4.85"/>
<circle cx="487.9" cy="566.9" r="4.85"/>
<circle cx="384.3" cy="557.9" r="4.85"/>
<circle cx="231.7" cy="525.5" r="4.85"/>
<circle cx="370.2" cy="545.8" r="4.85"/>
<circle cx="134.4" cy="592.0" r="4.85"/>
<circle cx="523.2" cy="542.4" r="4.85"/>
<circle cx="444.3" cy="514.8" r="4.85"/>
<circle cx="226.5" cy="544.4" r="4.85"/>
<circle cx="477.3" cy="556.5" r="4.85"/>
<circle cx="562.8" cy="497.7" r="4.85"/>
<circle cx="370.9" cy="577.7" r="4.85"/>
<circle cx="262.5" cy="412.3" r="4.85"/>
<circle cx="335.4" cy="422.5" r="4.85"/>
<circle cx="287.7" cy="552.9" r="4.85"/>
<circle cx="556.2" cy="526.9" r="4.85"/>
<circle cx="149.5" cy="518.6" r="4.85"/>
<circle cx="353.9" cy="531.6" r="4.85"/>
<circle cx="208.9" cy="547.6" r="4.85"/>
<circle cx="257.2" cy="591.5" r="4.85"/>
<circle cx="518.3" cy="521.9" r="4.85"/>
<circle cx="333.2" cy="548.3" r="4.85"/>
<circle cx="128.5" cy="543.6" r="4.85"/>
<circle cx="398.7" cy="528.5" r="4.85"/>
<circle cx="522.1" cy="524.8" r="4.85"/>
<circle cx="186.5" cy="507.2" r="4.85"/>
<circle cx="169.1" cy="567.9" r="4.85"/>
<circle cx="541.9" cy="547.0" r="4.85"/>
<circle cx="265.0" cy="521.3" r="4.85"/>
<circle cx="265.6" cy="545.7" r="4.85"/>
<circle cx="269.7" cy="549.3" r="4.85"/>
<circle cx="153.6" cy="590.4" r="4.85"/>
<circle cx="403.2" cy="570.2" r="4.85"/>
<circle cx="367.9" cy="411.7" r="4.85"/>
<circle cx="360.1" cy="380.6" r="4.85"/>
<circle cx="144.8" cy="402.2" r="4.85"/>
<circle cx="394.8" cy="517.3" r="4.85"/>
<circle cx="98.9" cy="573.5" r="4.85"/>
<circle cx="264.7" cy="566.6" r="4.85"/>
<circle cx="130.2" cy="463.9" r="4.85"/>
<circle cx="524.8" cy="517.6" r="4.85"/>
<circle cx="410.2" cy="542.0" r="4.85"/>
<circle cx="285.4" cy="554.1" r="4.85"/>
<circle cx="235.3" cy="537.3" r="4.85"/>
<circle cx="214.5" cy="530.0" r="4.85"/>
<circle cx="517.6" cy="511.5" r="4.85"/>
<circle cx="346.7" cy="555.9" r="4.85"/>
<circle cx="472.7" cy="552.3" r="4.85"/>
<circle cx="356.5" cy="584.4" r="4.85"/>
<circle cx="423.0" cy="511.7" r="4.85"/>
<circle cx="555.4" cy="563.9" r="4.85"/>
<circle cx="261.5" cy="587.9" r="4.85"/>
<circle cx="297.6" cy="416.7" r="4.85"/>
<circle cx="335.6" cy="510.3" r="4.85"/>
<circle cx="508.3" cy="537.0" r="4.85"/>
<circle cx="492.2" cy="548.4" r="4.85"/>
<circle cx="378.0" cy="389.2" r="4.85"/>
<circle cx="433.2" cy="406.3" r="4.85"/>
<circle cx="334.6" cy="535.3" r="4.85"/>
<circle cx="289.9" cy="492.8" r="4.85"/>
<circle cx="337.9" cy="538.2" r="4.85"/>
<circle cx="182.8" cy="552.3" r="4.85"/>
<circle cx="420.2" cy="506.1" r="4.85"/>
<circle cx="520.8" cy="506.9" r="4.85"/>
<circle cx="390.9" cy="548.6" r="4.85"/>
<circle cx="250.2" cy="585.2" r="4.85"/>
<circle cx="558.7" cy="545.8" r="4.85"/>
<circle cx="295.7" cy="581.2" r="4.85"/>
<circle cx="384.4" cy="518.2" r="4.85"/>
<circle cx="556.1" cy="557.8" r="4.85"/>
<circle cx="250.1" cy="502.4" r="4.85"/>
<circle cx="310.9" cy="556.3" r="4.85"/>
<circle cx="568.5" cy="535.5" r="4.85"/>
<circle cx="423.1" cy="425.3" r="4.85"/>
<circle cx="124.9" cy="586.3" r="4.85"/>
<circle cx="495.0" cy="474.1" r="4.85"/>
<circle cx="494.8" cy="573.1" r="4.85"/>
<circle cx="302.1" cy="568.8" r="4.85"/>
<circle cx="107.9" cy="534.4" r="4.85"/>
<circle cx="543.0" cy="520.5" r="4.85"/>
<circle cx="209.8" cy="553.0" r="4.85"/>
<circle cx="219.4" cy="532.9" r="4.85"/>
<circle cx="209.8" cy="528.7" r="4.85"/>
<circle cx="218.6" cy="525.3" r="4.85"/>
<circle cx="245.1" cy="485.2" r="4.85"/>
<circle cx="438.4" cy="584.7" r="4.85"/>
<circle cx="312.8" cy="508.9" r="4.85"/>
<circle cx="374.3" cy="544.7" r="4.85"/>
<circle cx="538.3" cy="520.7" r="4.85"/>
<circle cx="461.6" cy="547.3" r="4.85"/>
<circle cx="273.1" cy="543.0" r="4.85"/>
<circle cx="357.7" cy="566.4" r="4.85"/>
<circle cx="159.7" cy="531.4" r="4.85"/>
<circle cx="308.6" cy="552.4" r="4.85"/>
<circle cx="134.6" cy="561.0" r="4.85"/>
<circle cx="317.3" cy="557.6" r="4.85"/>
<circle cx="214.5" cy="424.3" r="4.85"/>
<circle cx="503.9" cy="537.9" r="4.85"/>
<circle cx="274.0" cy="587.1" r="4.85"/>
<circle cx="289.9" cy="615.2" r="4.85"/>
<circle cx="405.9" cy="523.2" r="4.85"/>
<circle cx="497.2" cy="521.8" r="4.85"/>
<circle cx="254.4" cy="587.7" r="4.85"/>
<circle cx="304.7" cy="422.7" r="4.85"/>
<circle cx="568.4" cy="538.1" r="4.85"/>
<circle cx="481.0" cy="558.2" r="4.85"/>
<circle cx="372.7" cy="568.1" r="4.85"/>
<circle cx="324.4" cy="532.0" r="4.85"/>
<circle cx="545.8" cy="531.2" r="4.85"/>
<circle cx="428.5" cy="530.6" r="4.85"/>
<circle cx="325.8" cy="536.6" r="4.85"/>
<circle cx="432.6" cy="506.9" r="4.85"/>
<circle cx="230.3" cy="580.3" r="4.85"/>
<circle cx="215.3" cy="516.1" r="4.85"/>
<circle cx="507.4" cy="518.4" r="4.85"/>
<circle cx="301.4" cy="521.8" r="4.85"/>
<circle cx="388.6" cy="580.8" r="4.85"/>
<circle cx="141.5" cy="574.9" r="4.85"/>
<circle cx="135.2" cy="525.6" r="4.85"/>
<circle cx="337.1" cy="544.0" r="4.85"/>
<circle cx="159.3" cy="540.8" r="4.85"/>
<circle cx="119.4" cy="523.0" r="4.85"/>
<circle cx="349.6" cy="575.1" r="4.85"/>
<circle cx="518.9" cy="523.1" r="4.85"/>
<circle cx="109.9" cy="583.1" r="4.85"/>
<circle cx="387.0" cy="555.8" r="4.85"/>
<circle cx="287.4" cy="529.2" r="4.85"/>
<circle cx="398.0" cy="424.3" r="4.85"/>
<circle cx="475.9" cy="544.0" r="4.85"/>
<circle cx="132.6" cy="505.8" r="4.85"/>
<circle cx="269.5" cy="556.4" r="4.85"/>
<circle cx="100.7" cy="569.0" r="4.85"/>
<circle cx="302.7" cy="400.2" r="4.85"/>
<circle cx="553.2" cy="524.6" r="4.85"/>
<circle cx="514.3" cy="548.9" r="4.85"/>
<circle cx="347.4" cy="577.8" r="4.85"/>
<circle cx="335.0" cy="474.1" r="4.85"/>
<circle cx="462.6" cy="548.3" r="4.85"/>
<circle cx="461.6" cy="577.5" r="4.85"/>
<circle cx="99.7" cy="543.9" r="4.85"/>
<circle cx="430.3" cy="536.4" r="4.85"/>
<circle cx="266.0" cy="522.1" r="4.85"/>
<circle cx="491.5" cy="533.0" r="4.85"/>
<circle cx="435.5" cy="575.9" r="4.85"/>
<circle cx="404.1" cy="516.5" r="4.85"/>
<circle cx="385.3" cy="545.9" r="4.85"/>
<circle cx="162.2" cy="590.6" r="4.85"/>
<circle cx="327.3" cy="544.8" r="4.85"/>
<circle cx="487.3" cy="556.1" r="4.85"/>
<circle cx="448.0" cy="536.9" r="4.85"/>
<circle cx="160.4" cy="545.2" r="4.85"/>
<circle cx="320.0" cy="533.9" r="4.85"/>
<circle cx="283.0" cy="543.6" r="4.85"/>
<circle cx="114.1" cy="545.9" r="4.85"/>
<circle cx="346.1" cy="554.3" r="4.85"/>
<circle cx="522.5" cy="478.6" r="4.85"/>
<circle cx="383.3" cy="525.8" r="4.85"/>
<circle cx="499.8" cy="561.7" r="4.85"/>
<circle cx="258.2" cy="550.0" r="4.85"/>
<circle cx="445.3" cy="551.6" r="4.85"/>
<circle cx="215.4" cy="532.1" r="4.85"/>
<circle cx="98.2" cy="529.2" r="4.85"/>
<circle cx="238.6" cy="549.1" r="4.85"/>
<circle cx="341.8" cy="514.6" r="4.85"/>
<circle cx="478.3" cy="589.9" r="4.85"/>
<circle cx="391.6" cy="552.3" r="4.85"/>
<circle cx="480.0" cy="549.2" r="4.85"/>
<circle cx="366.9" cy="572.9" r="4.85"/>
<circle cx="270.3" cy="598.9" r="4.85"/>
<circle cx="172.6" cy="514.7" r="4.85"/>
<circle cx="369.2" cy="565.9" r="4.85"/>
<circle cx="289.6" cy="514.0" r="4.85"/>
<circle cx="174.0" cy="536.2" r="4.85"/>
<circle cx="483.5" cy="534.2" r="4.85"/>
<circle cx="217.8" cy="551.1" r="4.85"/>
<circle cx="444.8" cy="402.7" r="4.85"/>
<circle cx="101.0" cy="569.0" r="4.85"/>
<circle cx="211.5" cy="539.9" r="4.85"/>
<circle cx="407.4" cy="416.3" r="4.85"/>
<circle cx="218.1" cy="583.7" r="4.85"/>
<circle cx="96.5" cy="543.5" r="4.85"/>
<circle cx="451.5" cy="533.8" r="4.85"/>
<circle cx="467.7" cy="476.1" r="4.85"/>
<circle cx="425.1" cy="563.9" r="4.85"/>
<circle cx="322.8" cy="568.8" r="4.85"/>
<circle cx="441.6" cy="566.2" r="4.85"/>
<circle cx="167.1" cy="554.8" r="4.85"/>
<circle cx="445.2" cy="536.0" r="4.85"/>
<circle cx="148.5" cy="557.9" r="4.85"/>
<circle cx="223.9" cy="563.3" r="4.85"/>
<circle cx="164.8" cy="551.9" r="4.85"/>
<circle cx="229.2" cy="410.9" r="4.85"/>
<circle cx="506.8" cy="517.4" r="4.85"/>
<circle cx="382.1" cy="582.5" r="4.85"/>
<circle cx="184.8" cy="385.8" r="4.85"/>
<circle cx="360.3" cy="481.1" r="4.85"/>
<circle cx="392.1" cy="487.1" r="4.85"/>
<circle cx="495.7" cy="531.2" r="4.85"/>
<circle cx="241.2" cy="548.7" r="4.85"/>
<circle cx="512.5" cy="526.9" r="4.85"/>
<circle cx="116.6" cy="544.0" r="4.85"/>
<circle cx="116.1" cy="577.7" r="4.85"/>
<circle cx="559.8" cy="438.7" r="4.85"/>
<circle cx="530.4" cy="528.0" r="4.85"/>
<circle cx="196.1" cy="554.6" r="4.85"/>
<circle cx="497.6" cy="562.3" r="4.85"/>
<circle cx="566.0" cy="550.2" r="4.85"/>
<circle cx="418.8" cy="566.5" r="4.85"/>
<circle cx="566.9" cy="520.4" r="4.85"/>
<circle cx="132.3" cy="553.3" r="4.85"/>
<circle cx="166.5" cy="517.6" r="4.85"/>
<circle cx="503.5" cy="533.8" r="4.85"/>
<circle cx="327.1" cy="534.2" r="4.85"/>
<circle cx="112.5" cy="484.5" r="4.85"/>
<circle cx="399.1" cy="521.3" r="4.85"/>
<circle cx="381.2" cy="575.0" r="4.85"/>
<circle cx="427.5" cy="399.6" r="4.85"/>
<circle cx="486.2" cy="543.1" r="4.85"/>
<circle cx="540.0" cy="547.9" r="4.85"/>
<circle cx="105.1" cy="403.9" r="4.85"/>
<circle cx="199.5" cy="406.9" r="4.85"/>
<circle cx="368.7" cy="522.9" r="4.85"/>
<circle cx="452.4" cy="587.6" r="4.85"/>
<circle cx="461.2" cy="514.0" r="4.85"/>
<circle cx="277.3" cy="513.8" r="4.85"/>
<circle cx="504.0" cy="535.0" r="4.85"/>
<circle cx="257.5" cy="502.8" r="4.85"/>
<circle cx="479.2" cy="543.5" r="4.85"/>
<circle cx="147.9" cy="566.0" r="4.85"/>
<circle cx="359.6" cy="563.1" r="4.85"/>
<circle cx="539.2" cy="547.0" r="4.85"/>
<circle cx="261.1" cy="557.8" r="4.85"/>
<circle cx="252.1" cy="518.8" r="4.85"/>
<circle cx="532.2" cy="525.2" r="4.85"/>
<circle cx="118.5" cy="521.3" r="4.85"/>
<circle cx="431.5" cy="564.7" r="4.85"/>
<circle cx="559.4" cy="553.1" r="4.85"/>
<circle cx="511.8" cy="510.8" r="4.85"/>
<circle cx="174.6" cy="532.5" r="4.85"/>
<circle cx="430.8" cy="564.6" r="4.85"/>
<circle cx="272.5" cy="530.8" r="4.85"/>
<circle cx="274.5" cy="529.0" r="4.85"/>
<circle cx="286.5" cy="552.8" r="4.85"/>
<circle cx="160.0" cy="527.8" r="4.85"/>
<circle cx="452.1" cy="516.6" r="4.85"/>
<circle cx="236.2" cy="543.5" r="4.85"/>
<circle cx="487.3" cy="532.0" r="4.85"/>
<circle cx="480.2" cy="530.2" r="4.85"/>
<circle cx="345.4" cy="434.0" r="4.85"/>
<circle cx="124.1" cy="545.0" r="4.85"/>
<circle cx="258.6" cy="541.2" r="4.85"/>
<circle cx="413.1" cy="390.2" r="4.85"/>
<circle cx="504.9" cy="530.3" r="4.85"/>
<circle cx="312.3" cy="540.7" r="4.85"/>
<circle cx="505.0" cy="554.7" r="4.85"/>
<circle cx="458.4" cy="560.7" r="4.85"/>
<circle cx="188.5" cy="548.5" r="4.85"/>
<circle cx="538.6" cy="552.4" r="4.85"/>
<circle cx="146.1" cy="591.7" r="4.85"/>
<circle cx="372.8" cy="532.3" r="4.85"/>
<circle cx="257.6" cy="617.6" r="4.85"/>
<circle cx="305.3" cy="546.5" r="4.85"/>
<circle cx="170.3" cy="392.2" r="4.85"/>
<circle cx="264.6" cy="573.9" r="4.85"/>
<circle cx="174.1" cy="530.7" r="4.85"/>
<circle cx="145.9" cy="539.0" r="4.85"/>
<circle cx="409.4" cy="554.6" r="4.85"/>
<circle cx="227.0" cy="589.2" r="4.85"/>
<circle cx="387.7" cy="571.3" r="4.85"/>
<circle cx="546.6" cy="527.1" r="4.85"/>
<circle cx="547.8" cy="565.6" r="4.85"/>
<circle cx="418.2" cy="546.0" r="4.85"/>
<circle cx="551.1" cy="557.1" r="4.85"/>
<circle cx="380.7" cy="563.2" r="4.85"/>
<circle cx="107.5" cy="461.1" r="4.85"/>
<circle cx="481.6" cy="551.1" r="4.85"/>
<circle cx="489.0" cy="536.7" r="4.85"/>
<circle cx="144.7" cy="566.6" r="4.85"/>
<circle cx="479.6" cy="529.4" r="4.85"/>
<circle cx="192.4" cy="492.5" r="4.85"/>
<circle cx="194.8" cy="395.6" r="4.85"/>
<circle cx="265.6" cy="523.3" r="4.85"/>
<circle cx="367.9" cy="560.9" r="4.85"/>
<circle cx="504.9" cy="505.1" r="4.85"/>
<circle cx="501.1" cy="517.6" r="4.85"/>
<circle cx="507.1" cy="554.5" r="4.85"/>
<circle cx="285.7" cy="539.9" r="4.85"/>
<circle cx="566.3" cy="516.7" r="4.85"/>
<circle cx="219.4" cy="526.8" r="4.85"/>
<circle cx="379.4" cy="556.8" r="4.85"/>
<circle cx="536.5" cy="524.8" r="4.85"/>
<circle cx="379.1" cy="519.2" r="4.85"/>
<circle cx="165.7" cy="558.9" r="4.85"/>
<circle cx="293.6" cy="560.5" r="4.85"/>
<circle cx="251.7" cy="545.0" r="4.85"/>
<circle cx="160.9" cy="564.7" r="4.85"/>
<circle cx="188.4" cy="540.4" r="4.85"/>
<circle cx="303.0" cy="574.4" r="4.85"/>
<circle cx="324.6" cy="543.9" r="4.85"/>
<circle cx="530.8" cy="531.0" r="4.85"/>
<circle cx="407.4" cy="444.8" r="4.85"/>
<circle cx="470.3" cy="392.6" r="4.85"/>
<circle cx="186.0" cy="541.5" r="4.85"/>
<circle cx="260.0" cy="517.7" r="4.85"/>
<circle cx="530.0" cy="545.9" r="4.85"/>
<circle cx="434.6" cy="541.8" r="4.85"/>
<circle cx="374.9" cy="529.4" r="4.85"/>
<circle cx="175.6" cy="524.8" r="4.85"/>
<circle cx="429.4" cy="503.8" r="4.85"/>
<circle cx="137.5" cy="604.8" r="4.85"/>
<circle cx="504.0" cy="560.2" r="4.85"/>
<circle cx="177.3" cy="524.7" r="4.85"/>
<circle cx="448.6" cy="530.9" r="4.85"/>
<circle cx="356.4" cy="506.7" r="4.85"/>
<circle cx="152.0" cy="564.4" r="4.85"/>
<circle cx="450.2" cy="514.2" r="4.85"/>
<circle cx="517.1" cy="527.6" r="4.85"/>
<circle cx="247.1" cy="529.9" r="4.85"/>
<circle cx="252.2" cy="554.5" r="4.85"/>
<circle cx="560.9" cy="522.5" r="4.85"/>
<circle cx="190.6" cy="539.7" r="4.85"/>
<circle cx="497.7" cy="507.9" r="4.85"/>
<circle cx="126.6" cy="586.4" r="4.85"/>
<circle cx="102.1" cy="600.7" r="4.85"/>
<circle cx="108.8" cy="534.2" r="4.85"/>
<circle cx="169.8" cy="581.2" r="4.85"/>
<circle cx="259.4" cy="508.2" r="4.85"/>
<circle cx="429.8" cy="533.5" r="4.85"/>
<circle cx="105.0" cy="536.1" r="4.85"/>
<circle cx="140.2" cy="528.1" r="4.85"/>
<circle cx="522.7" cy="529.6" r="4.85"/>
<circle cx="287.0" cy="531.0" r="4.85"/>
<circle cx="117.2" cy="578.8" r="4.85"/>
<circle cx="423.9" cy="492.8" r="4.85"/>
<circle cx="336.5" cy="514.9" r="4.85"/>
<circle cx="393.9" cy="575.9" r="4.85"/>
<circle cx="311.1" cy="549.2" r="4.85"/>
<circle cx="174.8" cy="421.3" r="4.85"/>
<circle cx="380.3" cy="563.5" r="4.85"/>
<circle cx="166.0" cy="533.2" r="4.85"/>
<circle cx="340.8" cy="547.1" r="4.85"/>
<circle cx="162.3" cy="488.7" r="4.85"/>
<circle cx="360.1" cy="532.8" r="4.85"/>
<circle cx="285.0" cy="534.3" r="4.85"/>
<circle cx="544.0" cy="566.6" r="4.85"/>
<circle cx="111.5" cy="568.0" r="4.85"/>
<circle cx="185.2" cy="536.2" r="4.85"/>
<circle cx="539.5" cy="540.7" r="4.85"/>
<circle cx="152.8" cy="538.6" r="4.85"/>
<circle cx="392.7" cy="562.2" r="4.85"/>
<circle cx="187.9" cy="529.7" r="4.85"/>
<circle cx="247.6" cy="556.9" r="4.85"/>
<circle cx="357.9" cy="548.2" r="4.85"/>
<circle cx="361.5" cy="517.3" r="4.85"/>
<circle cx="555.0" cy="380.2" r="4.85"/>
<circle cx="419.3" cy="552.0" r="4.85"/>
<circle cx="199.2" cy="582.0" r="4.85"/>
<circle cx="417.1" cy="524.2" r="4.85"/>
<circle cx="543.0" cy="409.9" r="4.85"/>
<circle cx="234.1" cy="582.9" r="4.85"/>
<circle cx="270.3" cy="546.1" r="4.85"/>
<circle cx="319.7" cy="562.5" r="4.85"/>
<circle cx="432.1" cy="478.2" r="4.85"/>
<circle cx="191.7" cy="540.0" r="4.85"/>
<circle cx="391.4" cy="552.0" r="4.85"/>
<circle cx="227.6" cy="489.7" r="4.85"/>
<circle cx="292.1" cy="558.1" r="4.85"/>
<circle cx="410.8" cy="556.9" r="4.85"/>
<circle cx="465.3" cy="460.1" r="4.85"/>
<circle cx="118.3" cy="522.1" r="4.85"/>
<circle cx="496.0" cy="542.2" r="4.85"/>
<circle cx="216.3" cy="540.3" r="4.85"/>
<circle cx="338.0" cy="607.0" r="4.85"/>
<circle cx="409.4" cy="539.3" r="4.85"/>
<circle cx="236.1" cy="552.3" r="4.85"/>
<circle cx="237.0" cy="546.6" r="4.85"/>
<circle cx="240.8" cy="515.7" r="4.85"/>
<circle cx="430.1" cy="389.2" r="4.85"/>
<circle cx="570.5" cy="531.8" r="4.85"/>
<circle cx="556.1" cy="549.0" r="4.85"/>
<circle cx="426.2" cy="516.6" r="4.85"/>
<circle cx="406.7" cy="546.2" r="4.85"/>
<circle cx="534.0" cy="545.4" r="4.85"/>
<circle cx="510.0" cy="553.5" r="4.85"/>
<circle cx="198.3" cy="549.2" r="4.85"/>
<circle cx="479.6" cy="571.0" r="4.85"/>
<circle cx="147.8" cy="576.2" r="4.85"/>
<circle cx="460.6" cy="583.8" r="4.85"/>
<circle cx="248.5" cy="539.5" r="4.85"/>
<circle cx="379.8" cy="513.7" r="4.85"/>
<circle cx="482.8" cy="468.9" r="4.85"/>
<circle cx="279.2" cy="530.7" r="4.85"/>
<circle cx="496.4" cy="546.2" r="4.85"/>
<circle cx="431.7" cy="545.4" r="4.85"/>
<circle cx="300.2" cy="549.2" r="4.85"/>
<circle cx="156.3" cy="530.6" r="4.85"/>
<circle cx="489.7" cy="559.1" r="4.85"/>
<circle cx="531.3" cy="523.4" r="4.85"/>
<circle cx="227.3" cy="527.0" r="4.85"/>
<circle cx="253.0" cy="588.9" r="4.85"/>
<circle cx="531.7" cy="533.1" r="4.85"/>
<circle cx="119.4" cy="538.1" r="4.85"/>
<circle cx="329.5" cy="515.7" r="4.85"/>
<circle cx="271.1" cy="573.8" r="4.85"/>
<circle cx="510.0" cy="516.6" r="4.85"/>
<circle cx="482.7" cy="541.2" r="4.85"/>
<circle cx="375.8" cy="546.4" r="4.85"/>
<circle cx="347.5" cy="541.1" r="4.85"/>
<circle cx="220.2" cy="572.5" r="4.85"/>
<circle cx="194.9" cy="533.9" r="4.85"/>
<circle cx="316.8" cy="557.0" r="4.85"/>
<circle cx="540.9" cy="532.2" r="4.85"/>
<circle cx="97.7" cy="412.9" r="4.85"/>
<circle cx="419.3" cy="565.9" r="4.85"/>
<circle cx="518.2" cy="528.4" r="4.85"/>
<circle cx="136.0" cy="541.4" r="4.85"/>
<circle cx="367.4" cy="566.4" r="4.85"/>
<circle cx="541.1" cy="563.0" r="4.85"/>
<circle cx="484.8" cy="377.1" r="4.85"/>
<circle cx="386.9" cy="549.5" r="4.85"/>
<circle cx="180.5" cy="525.1" r="4.85"/>
<circle cx="107.6" cy="582.2" r="4.85"/>
<circle cx="119.1" cy="546.2" r="4.85"/>
<circle cx="390.0" cy="565.5" r="4.85"/>
<circle cx="154.2" cy="587.9" r="4.85"/>
<circle cx="433.8" cy="536.1" r="4.85"/>
<circle cx="432.2" cy="572.3" r="4.85"/>
<circle cx="386.7" cy="519.3" r="4.85"/>
<circle cx="478.4" cy="563.8" r="4.85"/>
<circle cx="220.0" cy="493.1" r="4.85"/>
<circle cx="123.7" cy="560.3" r="4.85"/>
<circle cx="312.7" cy="415.3" r="4.85"/>
<circle cx="454.1" cy="580.1" r="4.85"/>
<circle cx="502.1" cy="527.9" r="4.85"/>
<circle cx="443.6" cy="531.9" r="4.85"/>
<circle cx="274.1" cy="569.7" r="4.85"/>
<circle cx="500.5" cy="560.7" r="4.85"/>
<circle cx="240.0" cy="504.8" r="4.85"/>
<circle cx="519.8" cy="516.4" r="4.85"/>
<circle cx="245.6" cy="546.9" r="4.85"/>
<circle cx="223.7" cy="546.3" r="4.85"/>
<circle cx="403.5" cy="534.0" r="4.85"/>
<circle cx="263.7" cy="547.3" r="4.85"/>
<circle cx="352.2" cy="536.4" r="4.85"/>
<circle cx="378.3" cy="571.3" r="4.85"/>
<circle cx="480.3" cy="427.8" r="4.85"/>
<circle cx="519.1" cy="529.5" r="4.85"/>
<circle cx="151.7" cy="579.2" r="4.85"/>
<circle cx="204.8" cy="572.4" r="4.85"/>
<circle cx="143.1" cy="516.2" r="4.85"/>
<circle cx="229.6" cy="541.0" r="4.85"/>
<circle cx="512.9" cy="399.8" r="4.85"/>
<circle cx="383.0" cy="398.2" r="4.85"/>
<circle cx="318.4" cy="567.6" r="4.85"/>
<circle cx="480.4" cy="562.1" r="4.85"/>
<circle cx="461.2" cy="549.9" r="4.85"/>
<circle cx="437.6" cy="379.8" r="4.85"/>
<circle cx="96.8" cy="579.8" r="4.85"/>
<circle cx="232.5" cy="546.9" r="4.85"/>
<circle cx="374.9" cy="578.2" r="4.85"/>
<circle cx="491.5" cy="514.5" r="4.85"/>
<circle cx="445.9" cy="581.7" r="4.85"/>
<circle cx="268.9" cy="516.6" r="4.85"/>
<circle cx="426.6" cy="551.8" r="4.85"/>
<circle cx="186.7" cy="543.7" r="4.85"/>
<circle cx="166.2" cy="569.3" r="4.85"/>
<circle cx="562.2" cy="516.8" r="4.85"/>
<circle cx="402.9" cy="547.2" r="4.85"/>
<circle cx="366.5" cy="562.0" r="4.85"/>
<circle cx="359.6" cy="560.1" r="4.85"/>
<circle cx="332.8" cy="565.7" r="4.85"/>
<circle cx="516.9" cy="526.7" r="4.85"/>
<circle cx="454.6" cy="549.3" r="4.85"/>
<circle cx="280.9" cy="534.8" r="4.85"/>
<circle cx="550.9" cy="519.1" r="4.85"/>
<circle cx="161.9" cy="538.6" r="4.85"/>
<circle cx="165.3" cy="521.4" r="4.85"/>
<circle cx="520.1" cy="528.8" r="4.85"/>
<circle cx="235.6" cy="553.1" r="4.85"/>
<circle cx="242.6" cy="597.2" r="4.85"/>
<circle cx="202.1" cy="529.6" r="4.85"/>
<circle cx="446.2" cy="528.0" r="4.85"/>
<circle cx="267.3" cy="513.8" r="4.85"/>
<circle cx="365.7" cy="564.7" r="4.85"/>
<circle cx="186.5" cy="560.7" r="4.85"/>
<circle cx="224.9" cy="550.6" r="4.85"/>
<circle cx="427.5" cy="580.1" r="4.85"/>
<circle cx="347.7" cy="485.0" r="4.85"/>
<circle cx="314.4" cy="510.8" r="4.85"/>
<circle cx="121.0" cy="532.0" r="4.85"/>
<circle cx="388.0" cy="421.3" r="4.85"/>
<circle cx="283.6" cy="524.3" r="4.85"/>
<circle cx="493.5" cy="547.0" r="4.85"/>
<circle cx="175.2" cy="551.6" r="4.85"/>
<circle cx="299.5" cy="528.7" r="4.85"/>
<circle cx="340.2" cy="567.8" r="4.85"/>
<circle cx="534.4" cy="543.9" r="4.85"/>
<circle cx="303.2" cy="530.4" r="4.85"/>
<circle cx="252.3" cy="531.5" r="4.85"/>
<circle cx="486.3" cy="520.9" r="4.85"/>
<circle cx="516.4" cy="542.3" r="4.85"/>
<circle cx="440.2" cy="442.0" r="4.85"/>
<circle cx="185.2" cy="551.0" r="4.85"/>
<circle cx="266.5" cy="537.3" r="4.85"/>
<circle cx="468.8" cy="562.1" r="4.85"/>
<circle cx="205.5" cy="526.7" r="4.85"/>
<circle cx="546.3" cy="526.2" r="4.85"/>
<circle cx="163.6" cy="516.2" r="4.85"/>
<circle cx="375.5" cy="413.7" r="4.85"/>
<circle cx="194.8" cy="534.6" r="4.85"/>
<circle cx="202.5" cy="463.5" r="4.85"/>
<circle cx="181.0" cy="523.7" r="4.85"/>
<circle cx="408.1" cy="513.5" r="4.85"/>
<circle cx="562.4" cy="536.8" r="4.85"/>
<circle cx="205.3" cy="560.7" r="4.85"/>
<circle cx="321.3" cy="520.1" r="4.85"/>
<circle cx="456.2" cy="577.0" r="4.85"/>
<circle cx="230.8" cy="556.7" r="4.85"/>
<circle cx="402.7" cy="487.9" r="4.85"/>
<circle cx="175.8" cy="564.5" r="4.85"/>
<circle cx="469.1" cy="561.6" r="4.85"/>
<circle cx="450.2" cy="408.3" r="4.85"/>
<circle cx="325.4" cy="519.4" r="4.85"/>
<circle cx="237.5" cy="570.0" r="4.85"/>
<circle cx="447.2" cy="549.8" r="4.85"/>
<circle cx="397.1" cy="554.9" r="4.85"/>
<circle cx="564.9" cy="511.4" r="4.85"/>
<circle cx="390.6" cy="432.8" r="4.85"/>
<circle cx="233.5" cy="553.8" r="4.85"/>
<circle cx="360.5" cy="515.4" r="4.85"/>
<circle cx="559.0" cy="524.8" r="4.85"/>
<circle cx="172.2" cy="550.5" r="4.85"/>
<circle cx="413.7" cy="558.7" r="4.85"/>
<circle cx="371.3" cy="510.1" r="4.85"/>
<circle cx="252.9" cy="584.5" r="4.85"/>
<circle cx="507.3" cy="581.7" r="4.85"/>
<circle cx="183.6" cy="531.8" r="4.85"/>
<circle cx="201.4" cy="527.5" r="4.85"/>
<circle cx="383.5" cy="553.4" r="4.85"/>
<circle cx="261.2" cy="575.2" r="4.85"/>
<circle cx="159.9" cy="518.7" r="4.85"/>
<circle cx="326.2" cy="547.1" r="4.85"/>
<circle cx="410.1" cy="468.5" r="4.85"/>
<circle cx="529.4" cy="556.6" r="4.85"/>
<circle cx="227.6" cy="422.7" r="4.85"/>
<circle cx="352.8" cy="573.5" r="4.85"/>
<circle cx="423.6" cy="559.9" r="4.85"/>
<circle cx="187.8" cy="496.3" r="4.85"/>
<circle cx="416.3" cy="523.4" r="4.85"/>
<circle cx="149.9" cy="427.8" r="4.85"/>
<circle cx="306.9" cy="579.7" r="4.85"/>
<circle cx="224.5" cy="545.5" r="4.85"/>
<circle cx="152.6" cy="576.9" r="4.85"/>
<circle cx="105.3" cy="526.2" r="4.85"/>
<circle cx="407.6" cy="520.9" r="4.85"/>
<circle cx="544.0" cy="549.7" r="4.85"/>
<circle cx="263.9" cy="511.1" r="4.85"/>
<circle cx="129.5" cy="524.7" r="4.85"/>
<circle cx="469.7" cy="533.8" r="4.85"/>
<circle cx="183.4" cy="415.3" r="4.85"/>
<circle cx="266.1" cy="535.8" r="4.85"/>
<circle cx="361.8" cy="535.0" r="4.85"/>
<circle cx="466.1" cy="582.1" r="4.85"/>
<circle cx="470.3" cy="555.4" r="4.85"/>
<circle cx="189.4" cy="533.2" r="4.85"/>
<circle cx="529.9" cy="530.8" r="4.85"/>
<circle cx="513.7" cy="527.5" r="4.85"/>
<circle cx="410.2" cy="544.8" r="4.85"/>
<circle cx="225.2" cy="436.0" r="4.85"/>
<circle cx="142.5" cy="560.1" r="4.85"/>
<circle cx="262.7" cy="528.6" r="4.85"/>
<circle cx="554.9" cy="522.8" r="4.85"/>
<circle cx="390.6" cy="548.4" r="4.85"/>
<circle cx="207.9" cy="563.2" r="4.85"/>
<circle cx="271.7" cy="569.2" r="4.85"/>
<circle cx="321.8" cy="569.2" r="4.85"/>
<circle cx="213.2" cy="550.3" r="4.85"/>
<circle cx="397.8" cy="525.1" r="4.85"/>
<circle cx="158.8" cy="563.5" r="4.85"/>
<circle cx="470.9" cy="531.5" r="4.85"/>
<circle cx="465.0" cy="545.1" r="4.85"/>
<circle cx="119.7" cy="395.8" r="4.85"/>
<circle cx="354.7" cy="543.8" r="4.85"/>
<circle cx="224.0" cy="530.4" r="4.85"/>
<circle cx="306.2" cy="570.9" r="4.85"/>
<circle cx="312.5" cy="525.3" r="4.85"/>
<circle cx="99.8" cy="526.0" r="4.85"/>
<circle cx="398.4" cy="569.0" r="4.85"/>
<circle cx="453.3" cy="562.0" r="4.85"/>
<circle cx="147.1" cy="578.5" r="4.85"/>
<circle cx="162.4" cy="543.8" r="4.85"/>
<circle cx="412.8" cy="514.4" r="4.85"/>
<circle cx="488.8" cy="532.2" r="4.85"/>
<circle cx="109.5" cy="447.8" r="4.85"/>
<circle cx="134.8" cy="444.0" r="4.85"/>
<circle cx="553.9" cy="553.6" r="4.85"/>
<circle cx="501.2" cy="553.8" r="4.85"/>
<circle cx="339.1" cy="552.2" r="4.85"/>
<circle cx="393.6" cy="520.8" r="4.85"/>
<circle cx="438.1" cy="546.7" r="4.85"/>
<circle cx="324.5" cy="534.6" r="4.85"/>
<circle cx="511.6" cy="513.8" r="4.85"/>
<circle cx="468.4" cy="534.2" r="4.85"/>
<circle cx="131.1" cy="574.5" r="4.85"/>
<circle cx="206.7" cy="570.0" r="4.85"/>
<circle cx="472.0" cy="522.7" r="4.85"/>
<circle cx="313.8" cy="519.8" r="4.85"/>
<circle cx="126.9" cy="561.7" r="4.85"/>
<circle cx="337.4" cy="409.3" r="4.85"/>
<circle cx="170.3" cy="567.4" r="4.85"/>
<circle cx="566.1" cy="529.8" r="4.85"/>
<circle cx="332.1" cy="513.5" r="4.85"/>
<circle cx="499.3" cy="547.2" r="4.85"/>
<circle cx="463.6" cy="583.8" r="4.85"/>
<circle cx="458.1" cy="514.8" r="4.85"/>
<circle cx="516.2" cy="512.4" r="4.85"/>
<circle cx="400.6" cy="545.4" r="4.85"/>
<circle cx="275.4" cy="537.5" r="4.85"/>
<circle cx="154.9" cy="561.5" r="4.85"/>
<circle cx="283.6" cy="554.3" r="4.85"/>
<circle cx="536.6" cy="537.1" r="4.85"/>
<circle cx="502.0" cy="560.0" r="4.85"/>
<circle cx="539.6" cy="522.9" r="4.85"/>
<circle cx="202.5" cy="487.1" r="4.85"/>
<circle cx="505.9" cy="538.7" r="4.85"/>
<circle cx="191.4" cy="566.9" r="4.85"/>
<circle cx="216.2" cy="506.9" r="4.85"/>
<circle cx="155.8" cy="535.9" r="4.85"/>
<circle cx="294.9" cy="563.7" r="4.85"/>
<circle cx="324.2" cy="546.1" r="4.85"/>
<circle cx="337.3" cy="535.0" r="4.85"/>
<circle cx="559.9" cy="560.8" r="4.85"/>
<circle cx="505.1" cy="546.8" r="4.85"/>
<circle cx="545.7" cy="550.6" r="4.85"/>
<circle cx="454.8" cy="551.5" r="4.85"/>
<circle cx="520.0" cy="520.5" r="4.85"/>
<circle cx="226.8" cy="586.0" r="4.85"/>
<circle cx="414.9" cy="596.4" r="4.85"/>
<circle cx="219.8" cy="579.6" r="4.85"/>
<circle cx="440.0" cy="515.1" r="4.85"/>
<circle cx="526.0" cy="517.2" r="4.85"/>
<circle cx="216.4" cy="564.6" r="4.85"/>
<circle cx="554.9" cy="566.9" r="4.85"/>
<circle cx="562.7" cy="558.4" r="4.85"/>
<circle cx="517.4" cy="492.8" r="4.85"/>
<circle cx="563.6" cy="560.4" r="4.85"/>
<circle cx="262.2" cy="545.7" r="4.85"/>
<circle cx="442.2" cy="507.2" r="4.85"/>
<circle cx="334.9" cy="559.9" r="4.85"/>
<circle cx="543.0" cy="522.7" r="4.85"/>
<circle cx="242.6" cy="558.6" r="4.85"/>
<circle cx="460.6" cy="545.0" r="4.85"/>
<circle cx="139.2" cy="466.5" r="4.85"/>
<circle cx="122.6" cy="537.4" r="4.85"/>
<circle cx="545.1" cy="553.0" r="4.85"/>
<circle cx="173.3" cy="510.1" r="4.85"/>
<circle cx="103.8" cy="534.2" r="4.85"/>
<circle cx="386.5" cy="569.1" r="4.85"/>
<circle cx="218.4" cy="562.1" r="4.85"/>
<circle cx="114.5" cy="524.5" r="4.85"/>
<circle cx="284.7" cy="583.9" r="4.85"/>
<circle cx="157.3" cy="527.4" r="4.85"/>
<circle cx="400.4" cy="513.8" r="4.85"/>
<circle cx="185.7" cy="544.3" r="4.85"/>
<circle cx="326.6" cy="518.8" r="4.85"/>
<circle cx="350.7" cy="559.3" r="4.85"/>
<circle cx="298.9" cy="528.3" r="4.85"/>
<circle cx="277.2" cy="484.4" r="4.85"/>
<circle cx="466.3" cy="530.6" r="4.85"/>
<circle cx="428.1" cy="562.0" r="4.85"/>
<circle cx="113.2" cy="543.1" r="4.85"/>
<circle cx="548.5" cy="525.8" r="4.85"/>
<circle cx="188.6" cy="510.7" r="4.85"/>
<circle cx="401.8" cy="535.5" r="4.85"/>
<circle cx="477.5" cy="522.2" r="4.85"/>
<circle cx="364.6" cy="573.7" r="4.85"/>
<circle cx="534.4" cy="557.1" r="4.85"/>
<circle cx="247.2" cy="542.4" r="4.85"/>
<circle cx="497.8" cy="552.1" r="4.85"/>
<circle cx="285.0" cy="598.9" r="4.85"/>
<circle cx="342.4" cy="542.9" r="4.85"/>
<circle cx="539.9" cy="561.5" r="4.85"/>
<circle cx="165.0" cy="512.8" r="4.85"/>
<circle cx="529.0" cy="548.2" r="4.85"/>
<circle cx="533.5" cy="547.1" r="4.85"/>
<circle cx="435.0" cy="528.8" r="4.85"/>
<circle cx="228.3" cy="584.6" r="4.85"/>
<circle cx="150.7" cy="530.5" r="4.85"/>
<circle cx="528.8" cy="533.8" r="4.85"/>
<circle cx="425.1" cy="389.2" r="4.85"/>
<circle cx="103.5" cy="530.0" r="4.85"/>
<circle cx="372.4" cy="534.3" r="4.85"/>
<circle cx="144.8" cy="558.8" r="4.85"/>
<circle cx="248.5" cy="544.5" r="4.85"/>
<circle cx="439.8" cy="545.9" r="4.85"/>
<circle cx="457.7" cy="613.2" r="4.85"/>
<circle cx="205.4" cy="545.8" r="4.85"/>
<circle cx="549.1" cy="531.0" r="4.85"/>
<circle cx="311.6" cy="530.5" r="4.85"/>
<circle cx="217.4" cy="538.4" r="4.85"/>
<circle cx="439.1" cy="561.7" r="4.85"/>
<circle cx="310.6" cy="570.2" r="4.85"/>
<circle cx="449.4" cy="544.8" r="4.85"/>
<circle cx="197.4" cy="502.6" r="4.85"/>
<circle cx="268.3" cy="571.3" r="4.85"/>
<circle cx="152.7" cy="476.5" r="4.85"/>
<circle cx="572.8" cy="551.7" r="4.85"/>
<circle cx="243.0" cy="507.4" r="4.85"/>
<circle cx="307.6" cy="567.4" r="4.85"/>
<circle cx="406.2" cy="534.1" r="4.85"/>
<circle cx="515.3" cy="545.5" r="4.85"/>
<circle cx="313.0" cy="534.7" r="4.85"/>
<circle cx="339.8" cy="413.7" r="4.85"/>
<circle cx="182.8" cy="471.9" r="4.85"/>
<circle cx="191.2" cy="516.7" r="4.85"/>
<circle cx="131.4" cy="565.8" r="4.85"/>
<circle cx="281.9" cy="526.2" r="4.85"/>
<circle cx="525.9" cy="519.9" r="4.85"/>
<circle cx="143.9" cy="562.9" r="4.85"/>
<circle cx="223.0" cy="539.0" r="4.85"/>
<circle cx="330.8" cy="539.5" r="4.85"/>
<circle cx="417.8" cy="524.5" r="4.85"/>
<circle cx="333.7" cy="582.4" r="4.85"/>
<circle cx="433.2" cy="536.8" r="4.85"/>
<circle cx="190.8" cy="550.2" r="4.85"/>
<circle cx="112.8" cy="544.9" r="4.85"/>
<circle cx="237.0" cy="540.8" r="4.85"/>
<circle cx="317.4" cy="559.4" r="4.85"/>
<circle cx="284.2" cy="580.1" r="4.85"/>
<circle cx="548.0" cy="442.4" r="4.85"/>
<circle cx="515.5" cy="407.3" r="4.85"/>
<circle cx="196.7" cy="551.8" r="4.85"/>
<circle cx="470.1" cy="526.5" r="4.85"/>
<circle cx="568.3" cy="524.9" r="4.85"/>
<circle cx="214.2" cy="518.3" r="4.85"/>
<circle cx="341.7" cy="540.3" r="4.85"/>
<circle cx="183.1" cy="532.2" r="4.85"/>
<circle cx="369.2" cy="516.0" r="4.85"/>
<circle cx="381.6" cy="513.6" r="4.85"/>
<circle cx="527.5" cy="527.8" r="4.85"/>
<circle cx="460.3" cy="421.3" r="4.85"/>
<circle cx="231.1" cy="512.4" r="4.85"/>
<circle cx="511.2" cy="540.3" r="4.85"/>
<circle cx="535.0" cy="461.9" r="4.85"/>
<circle cx="245.3" cy="544.7" r="4.85"/>
<circle cx="275.5" cy="520.8" r="4.85"/>
<circle cx="512.5" cy="587.1" r="4.85"/>
<circle cx="410.1" cy="383.2" r="4.85"/>
<circle cx="235.6" cy="552.0" r="4.85"/>
<circle cx="512.1" cy="514.8" r="4.85"/>
<circle cx="139.1" cy="524.9" r="4.85"/>
<circle cx="403.0" cy="438.4" r="4.85"/>
<circle cx="234.8" cy="601.3" r="4.85"/>
<circle cx="504.8" cy="422.3" r="4.85"/>
<circle cx="154.3" cy="572.4" r="4.85"/>
<circle cx="526.4" cy="517.0" r="4.85"/>
<circle cx="542.6" cy="545.7" r="4.85"/>
<circle cx="99.1" cy="561.1" r="4.85"/>
<circle cx="467.7" cy="532.2" r="4.85"/>
<circle cx="520.8" cy="518.3" r="4.85"/>
<circle cx="354.9" cy="466.1" r="4.85"/>
<circle cx="230.7" cy="558.7" r="4.85"/>
<circle cx="373.0" cy="531.6" r="4.85"/>
<circle cx="124.6" cy="542.3" r="4.85"/>
<circle cx="246.6" cy="519.9" r="4.85"/>
<circle cx="346.0" cy="555.8" r="4.85"/>
<circle cx="311.5" cy="571.6" r="4.85"/>
<circle cx="308.7" cy="511.5" r="4.85"/>
<circle cx="569.7" cy="564.4" r="4.85"/>
<circle cx="236.5" cy="545.1" r="4.85"/>
<circle cx="374.5" cy="569.8" r="4.85"/>
<circle cx="138.1" cy="585.7" r="4.85"/>
<circle cx="374.3" cy="590.1" r="4.85"/>
<circle cx="257.3" cy="600.2" r="4.85"/>
<circle cx="125.7" cy="548.0" r="4.85"/>
<circle cx="378.8" cy="525.6" r="4.85"/>
<circle cx="356.0" cy="581.6" r="4.85"/>
<circle cx="546.8" cy="530.6" r="4.85"/>
<circle cx="387.2" cy="384.6" r="4.85"/>
<circle cx="557.5" cy="504.3" r="4.85"/>
<circle cx="112.2" cy="581.0" r="4.85"/>
<circle cx="225.5" cy="526.9" r="4.85"/>
<circle cx="140.9" cy="526.0" r="4.85"/>
<circle cx="180.6" cy="521.4" r="4.85"/>
<circle cx="161.0" cy="548.4" r="4.85"/>
<circle cx="289.5" cy="568.9" r="4.85"/>
<circle cx="533.1" cy="553.0" r="4.85"/>
<circle cx="449.9" cy="512.8" r="4.85"/>
<circle cx="305.9" cy="560.3" r="4.85"/>
<circle cx="177.5" cy="541.6" r="4.85"/>
<circle cx="278.2" cy="511.7" r="4.85"/>
<circle cx="380.0" cy="405.3" r="4.85"/>
<circle cx="289.0" cy="520.2" r="4.85"/>
<circle cx="121.8" cy="569.6" r="4.85"/>
<circle cx="405.2" cy="521.6" r="4.85"/>
<circle cx="448.0" cy="580.0" r="4.85"/>
<circle cx="373.5" cy="545.5" r="4.85"/>
<circle cx="180.0" cy="407.3" r="4.85"/>
<circle cx="571.4" cy="531.2" r="4.85"/>
<circle cx="490.8" cy="545.9" r="4.85"/>
<circle cx="401.0" cy="546.3" r="4.85"/>
<circle cx="140.2" cy="571.0" r="4.85"/>
<circle cx="202.9" cy="571.3" r="4.85"/>
<circle cx="517.9" cy="532.1" r="4.85"/>
<circle cx="176.5" cy="526.2" r="4.85"/>
<circle cx="467.7" cy="557.1" r="4.85"/>
<circle cx="422.0" cy="572.9" r="4.85"/>
<circle cx="291.8" cy="560.7" r="4.85"/>
<circle cx="201.2" cy="562.9" r="4.85"/>
<circle cx="249.8" cy="569.2" r="4.85"/>
<circle cx="442.5" cy="510.0" r="4.85"/>
<circle cx="198.9" cy="541.9" r="4.85"/>
<circle cx="326.5" cy="535.1" r="4.85"/>
<circle cx="569.0" cy="550.0" r="4.85"/>
<circle cx="216.7" cy="574.2" r="4.85"/>
<circle cx="460.3" cy="399.6" r="4.85"/>
<circle cx="300.2" cy="564.0" r="4.85"/>
<circle cx="301.7" cy="560.2" r="4.85"/>
<circle cx="395.0" cy="385.8" r="4.85"/>
<circle cx="370.1" cy="433.0" r="4.85"/>
<circle cx="116.3" cy="548.0" r="4.85"/>
<circle cx="449.2" cy="549.0" r="4.85"/>
</g>
<line x1="89.80" y1="470.70" x2="582.10" y2="470.70" stroke="#000" stroke-width="2.20"/>
<line x1="71.00" y1="869.80" x2="266.00" y2="869.80" stroke="#d9d9d9" stroke-width="1.20"/>
<text x="28.10" y="900.80" font-size="16.50" fill="#000">-20</text>
<text x="42.77" y="875.48" font-size="16.50" fill="#000">0</text>
<text x="33.59" y="850.16" font-size="16.50" fill="#000">20</text>
<text x="33.59" y="824.84" font-size="16.50" fill="#000">40</text>
<text x="33.59" y="799.52" font-size="16.50" fill="#000">60</text>
<text x="33.59" y="774.20" font-size="16.50" fill="#000">80</text>
<text x="24.41" y="748.88" font-size="16.50" fill="#000">100</text>
<text x="68.74" y="895.90" font-size="16.80" fill="#000">0.4</text>
<text x="114.60" y="895.90" font-size="16.80" fill="#000">1</text>
<text x="153.93" y="895.90" font-size="16.80" fill="#000">2</text>
<text x="193.08" y="895.90" font-size="16.80" fill="#000">4</text>
<text x="231.93" y="895.90" font-size="16.80" fill="#000">8</text>
<text x="113.66" y="724.40" font-size="23.70" fill="#000">ABT-737</text>
<text x="155.72" y="921.00" font-size="18.60" fill="#000">µM</text>
<text transform="translate(28.00,870.66) rotate(-90)" font-size="18.30" font-weight="bold">% Inhibition</text>
<line x1="119.50" y1="829.29" x2="119.50" y2="842.96" stroke="#a0a0a0" stroke-width="1.30"/>
<line x1="115.90" y1="829.29" x2="123.10" y2="829.29" stroke="#a0a0a0" stroke-width="1.30"/>
<line x1="115.90" y1="842.96" x2="123.10" y2="842.96" stroke="#a0a0a0" stroke-width="1.30"/>
<line x1="197.70" y1="795.74" x2="197.70" y2="803.33" stroke="#a0a0a0" stroke-width="1.30"/>
<line x1="194.10" y1="795.74" x2="201.30" y2="795.74" stroke="#a0a0a0" stroke-width="1.30"/>
<line x1="194.10" y1="803.33" x2="201.30" y2="803.33" stroke="#a0a0a0" stroke-width="1.30"/>
<line x1="80.50" y1="825.74" x2="80.50" y2="860.18" stroke="#6a6a6a" stroke-width="1.30"/>
<line x1="76.90" y1="825.74" x2="84.10" y2="825.74" stroke="#6a6a6a" stroke-width="1.30"/>
<line x1="76.90" y1="860.18" x2="84.10" y2="860.18" stroke="#6a6a6a" stroke-width="1.30"/>
<line x1="119.50" y1="814.98" x2="119.50" y2="836.25" stroke="#6a6a6a" stroke-width="1.30"/>
<line x1="115.90" y1="814.98" x2="123.10" y2="814.98" stroke="#6a6a6a" stroke-width="1.30"/>
<line x1="115.90" y1="836.25" x2="123.10" y2="836.25" stroke="#6a6a6a" stroke-width="1.30"/>
<line x1="158.60" y1="808.53" x2="158.60" y2="829.54" stroke="#6a6a6a" stroke-width="1.30"/>
<line x1="155.00" y1="808.53" x2="162.20" y2="808.53" stroke="#6a6a6a" stroke-width="1.30"/>
<line x1="155.00" y1="829.54" x2="162.20" y2="829.54" stroke="#6a6a6a" stroke-width="1.30"/>
<line x1="197.70" y1="775.48" x2="197.70" y2="796.75" stroke="#6a6a6a" stroke-width="1.30"/>
<line x1="194.10" y1="775.48" x2="201.30" y2="775.48" stroke="#6a6a6a" stroke-width="1.30"/>
<line x1="194.10" y1="796.75" x2="201.30" y2="796.75" stroke="#6a6a6a" stroke-width="1.30"/>
<line x1="236.60" y1="762.44" x2="236.60" y2="771.81" stroke="#6a6a6a" stroke-width="1.30"/>
<line x1="233.00" y1="762.44" x2="240.20" y2="762.44" stroke="#6a6a6a" stroke-width="1.30"/>
<line x1="233.00" y1="771.81" x2="240.20" y2="771.81" stroke="#6a6a6a" stroke-width="1.30"/>
<line x1="80.50" y1="855.75" x2="80.50" y2="865.12" stroke="#606060" stroke-width="1.30"/>
<line x1="76.90" y1="855.75" x2="84.10" y2="855.75" stroke="#606060" stroke-width="1.30"/>
<line x1="76.90" y1="865.12" x2="84.10" y2="865.12" stroke="#606060" stroke-width="1.30"/>
<line x1="119.50" y1="862.08" x2="119.50" y2="865.12" stroke="#606060" stroke-width="1.30"/>
<line x1="115.90" y1="862.08" x2="123.10" y2="862.08" stroke="#606060" stroke-width="1.30"/>
<line x1="115.90" y1="865.12" x2="123.10" y2="865.12" stroke="#606060" stroke-width="1.30"/>
<line x1="158.60" y1="850.30" x2="158.60" y2="861.70" stroke="#606060" stroke-width="1.30"/>
<line x1="155.00" y1="850.30" x2="162.20" y2="850.30" stroke="#606060" stroke-width="1.30"/>
<line x1="155.00" y1="861.70" x2="162.20" y2="861.70" stroke="#606060" stroke-width="1.30"/>
<line x1="197.70" y1="840.30" x2="197.70" y2="856.51" stroke="#606060" stroke-width="1.30"/>
<line x1="194.10" y1="840.30" x2="201.30" y2="840.30" stroke="#606060" stroke-width="1.30"/>
<line x1="194.10" y1="856.51" x2="201.30" y2="856.51" stroke="#606060" stroke-width="1.30"/>
<line x1="236.60" y1="814.86" x2="236.60" y2="844.73" stroke="#606060" stroke-width="1.30"/>
<line x1="233.00" y1="814.86" x2="240.20" y2="814.86" stroke="#606060" stroke-width="1.30"/>
<line x1="233.00" y1="844.73" x2="240.20" y2="844.73" stroke="#606060" stroke-width="1.30"/>
<polyline points="80.50,846.51 119.50,836.12 158.60,816.63 197.70,799.54 236.60,774.47" fill="none" stroke="#bfbfbf" stroke-width="2.5" stroke-linejoin="round"/>
<rect x="76.10" y="842.11" width="8.80" height="8.80" fill="#bfbfbf"/>
<rect x="115.10" y="831.72" width="8.80" height="8.80" fill="#bfbfbf"/>
<rect x="154.20" y="812.23" width="8.80" height="8.80" fill="#bfbfbf"/>
<rect x="193.30" y="795.14" width="8.80" height="8.80" fill="#bfbfbf"/>
<rect x="232.20" y="770.07" width="8.80" height="8.80" fill="#bfbfbf"/>
<polyline points="80.50,842.96 119.50,825.62 158.60,819.03 197.70,786.12 236.60,767.13" fill="none" stroke="#7f7f7f" stroke-width="2.5" stroke-linejoin="round"/>
<circle cx="80.50" cy="842.96" r="4.70" fill="#7f7f7f"/>
<circle cx="119.50" cy="825.62" r="4.70" fill="#7f7f7f"/>
<circle cx="158.60" cy="819.03" r="4.70" fill="#7f7f7f"/>
<circle cx="197.70" cy="786.12" r="4.70" fill="#7f7f7f"/>
<circle cx="236.60" cy="767.13" r="4.70" fill="#7f7f7f"/>
<polyline points="80.50,860.43 119.50,863.60 158.60,856.00 197.70,848.40 236.60,829.79" fill="none" stroke="#000" stroke-width="2.8" stroke-linejoin="round"/>
<circle cx="80.50" cy="860.43" r="3.90" fill="#000"/>
<circle cx="119.50" cy="863.60" r="3.90" fill="#000"/>
<circle cx="158.60" cy="856.00" r="3.90" fill="#000"/>
<circle cx="197.70" cy="848.40" r="3.90" fill="#000"/>
<circle cx="236.60" cy="829.79" r="3.90" fill="#000"/>
<line x1="336.00" y1="871.00" x2="530.80" y2="871.00" stroke="#d9d9d9" stroke-width="1.20"/>
<text x="292.50" y="902.34" font-size="16.50" fill="#000">-20</text>
<text x="307.17" y="876.68" font-size="16.50" fill="#000">0</text>
<text x="297.99" y="851.02" font-size="16.50" fill="#000">20</text>
<text x="297.99" y="825.36" font-size="16.50" fill="#000">40</text>
<text x="297.99" y="799.70" font-size="16.50" fill="#000">60</text>
<text x="297.99" y="774.04" font-size="16.50" fill="#000">80</text>
<text x="288.81" y="748.38" font-size="16.50" fill="#000">100</text>
<text x="333.84" y="896.80" font-size="16.80" fill="#000">0.4</text>
<text x="379.80" y="896.80" font-size="16.80" fill="#000">1</text>
<text x="418.93" y="896.80" font-size="16.80" fill="#000">2</text>
<text x="457.88" y="896.80" font-size="16.80" fill="#000">4</text>
<text x="496.93" y="896.80" font-size="16.80" fill="#000">8</text>
<text x="382.62" y="726.40" font-size="23.70" fill="#000">4-HPR</text>
<text x="420.72" y="921.00" font-size="18.60" fill="#000">µM</text>
<text transform="translate(292.60,869.76) rotate(-90)" font-size="18.30" font-weight="bold">% Inhibition</text>
<line x1="384.70" y1="832.51" x2="384.70" y2="850.47" stroke="#a0a0a0" stroke-width="1.30"/>
<line x1="381.10" y1="832.51" x2="388.30" y2="832.51" stroke="#a0a0a0" stroke-width="1.30"/>
<line x1="381.10" y1="850.47" x2="388.30" y2="850.47" stroke="#a0a0a0" stroke-width="1.30"/>
<line x1="423.60" y1="795.94" x2="423.60" y2="812.62" stroke="#a0a0a0" stroke-width="1.30"/>
<line x1="420.00" y1="795.94" x2="427.20" y2="795.94" stroke="#a0a0a0" stroke-width="1.30"/>
<line x1="420.00" y1="812.62" x2="427.20" y2="812.62" stroke="#a0a0a0" stroke-width="1.30"/>
<line x1="345.60" y1="852.40" x2="345.60" y2="884.47" stroke="#6a6a6a" stroke-width="1.30"/>
<line x1="342.00" y1="852.40" x2="349.20" y2="852.40" stroke="#6a6a6a" stroke-width="1.30"/>
<line x1="342.00" y1="884.47" x2="349.20" y2="884.47" stroke="#6a6a6a" stroke-width="1.30"/>
<line x1="462.50" y1="811.98" x2="462.50" y2="829.94" stroke="#6a6a6a" stroke-width="1.30"/>
<line x1="458.90" y1="811.98" x2="466.10" y2="811.98" stroke="#6a6a6a" stroke-width="1.30"/>
<line x1="458.90" y1="829.94" x2="466.10" y2="829.94" stroke="#6a6a6a" stroke-width="1.30"/>
<line x1="501.60" y1="780.55" x2="501.60" y2="793.38" stroke="#6a6a6a" stroke-width="1.30"/>
<line x1="498.00" y1="780.55" x2="505.20" y2="780.55" stroke="#6a6a6a" stroke-width="1.30"/>
<line x1="498.00" y1="793.38" x2="505.20" y2="793.38" stroke="#6a6a6a" stroke-width="1.30"/>
<line x1="384.70" y1="851.11" x2="384.70" y2="878.06" stroke="#606060" stroke-width="1.30"/>
<line x1="381.10" y1="851.11" x2="388.30" y2="851.11" stroke="#606060" stroke-width="1.30"/>
<line x1="381.10" y1="878.06" x2="388.30" y2="878.06" stroke="#606060" stroke-width="1.30"/>
<line x1="423.60" y1="847.26" x2="423.60" y2="863.94" stroke="#606060" stroke-width="1.30"/>
<line x1="420.00" y1="847.26" x2="427.20" y2="847.26" stroke="#606060" stroke-width="1.30"/>
<line x1="420.00" y1="863.94" x2="427.20" y2="863.94" stroke="#606060" stroke-width="1.30"/>
<line x1="462.50" y1="843.42" x2="462.50" y2="866.51" stroke="#606060" stroke-width="1.30"/>
<line x1="458.90" y1="843.42" x2="466.10" y2="843.42" stroke="#606060" stroke-width="1.30"/>
<line x1="458.90" y1="866.51" x2="466.10" y2="866.51" stroke="#606060" stroke-width="1.30"/>
<line x1="501.60" y1="830.59" x2="501.60" y2="844.70" stroke="#606060" stroke-width="1.30"/>
<line x1="498.00" y1="830.59" x2="505.20" y2="830.59" stroke="#606060" stroke-width="1.30"/>
<line x1="498.00" y1="844.70" x2="505.20" y2="844.70" stroke="#606060" stroke-width="1.30"/>
<polyline points="345.60,869.72 384.70,841.49 423.60,804.28 462.50,776.06 501.60,751.04" fill="none" stroke="#bfbfbf" stroke-width="2.5" stroke-linejoin="round"/>
<rect x="341.20" y="865.32" width="8.80" height="8.80" fill="#bfbfbf"/>
<rect x="380.30" y="837.09" width="8.80" height="8.80" fill="#bfbfbf"/>
<rect x="419.20" y="799.88" width="8.80" height="8.80" fill="#bfbfbf"/>
<rect x="458.10" y="771.66" width="8.80" height="8.80" fill="#bfbfbf"/>
<rect x="497.20" y="746.64" width="8.80" height="8.80" fill="#bfbfbf"/>
<polyline points="345.60,868.43 384.70,865.48 423.60,842.77 462.50,820.96 501.60,786.96" fill="none" stroke="#7f7f7f" stroke-width="2.5" stroke-linejoin="round"/>
<circle cx="345.60" cy="868.43" r="4.70" fill="#7f7f7f"/>
<circle cx="384.70" cy="865.48" r="4.70" fill="#7f7f7f"/>
<circle cx="423.60" cy="842.77" r="4.70" fill="#7f7f7f"/>
<circle cx="462.50" cy="820.96" r="4.70" fill="#7f7f7f"/>
<circle cx="501.60" cy="786.96" r="4.70" fill="#7f7f7f"/>
<polyline points="345.60,871.00 384.70,864.59 423.60,855.60 462.50,854.96 501.60,837.64" fill="none" stroke="#000" stroke-width="2.8" stroke-linejoin="round"/>
<circle cx="345.60" cy="871.00" r="3.90" fill="#000"/>
<circle cx="384.70" cy="864.59" r="3.90" fill="#000"/>
<circle cx="423.60" cy="855.60" r="3.90" fill="#000"/>
<circle cx="462.50" cy="854.96" r="3.90" fill="#000"/>
<circle cx="501.60" cy="837.64" r="3.90" fill="#000"/>
<line x1="601.30" y1="867.50" x2="796.40" y2="867.50" stroke="#d9d9d9" stroke-width="1.20"/>
<text x="558.10" y="897.92" font-size="16.50" fill="#000">-20</text>
<text x="572.77" y="873.18" font-size="16.50" fill="#000">0</text>
<text x="563.59" y="848.44" font-size="16.50" fill="#000">20</text>
<text x="563.59" y="823.70" font-size="16.50" fill="#000">40</text>
<text x="563.59" y="798.96" font-size="16.50" fill="#000">60</text>
<text x="563.59" y="774.22" font-size="16.50" fill="#000">80</text>
<text x="554.41" y="749.48" font-size="16.50" fill="#000">100</text>
<text x="599.24" y="893.00" font-size="16.80" fill="#000">0.4</text>
<text x="644.80" y="893.00" font-size="16.80" fill="#000">1</text>
<text x="683.73" y="893.00" font-size="16.80" fill="#000">2</text>
<text x="723.08" y="893.00" font-size="16.80" fill="#000">4</text>
<text x="761.83" y="893.00" font-size="16.80" fill="#000">8</text>
<text x="641.52" y="723.10" font-size="23.70" fill="#000">Ivermectin</text>
<text x="686.02" y="920.80" font-size="18.60" fill="#000">µM</text>
<text transform="translate(558.60,869.26) rotate(-90)" font-size="18.30" font-weight="bold">% Inhibition</text>
<line x1="611.00" y1="840.16" x2="611.00" y2="871.09" stroke="#6a6a6a" stroke-width="1.30"/>
<line x1="607.40" y1="840.16" x2="614.60" y2="840.16" stroke="#6a6a6a" stroke-width="1.30"/>
<line x1="607.40" y1="871.09" x2="614.60" y2="871.09" stroke="#6a6a6a" stroke-width="1.30"/>
<line x1="649.70" y1="830.76" x2="649.70" y2="849.32" stroke="#6a6a6a" stroke-width="1.30"/>
<line x1="646.10" y1="830.76" x2="653.30" y2="830.76" stroke="#6a6a6a" stroke-width="1.30"/>
<line x1="646.10" y1="849.32" x2="653.30" y2="849.32" stroke="#6a6a6a" stroke-width="1.30"/>
<line x1="688.40" y1="837.07" x2="688.40" y2="864.28" stroke="#6a6a6a" stroke-width="1.30"/>
<line x1="684.80" y1="837.07" x2="692.00" y2="837.07" stroke="#6a6a6a" stroke-width="1.30"/>
<line x1="684.80" y1="864.28" x2="692.00" y2="864.28" stroke="#6a6a6a" stroke-width="1.30"/>
<line x1="727.70" y1="763.59" x2="727.70" y2="773.49" stroke="#6a6a6a" stroke-width="1.30"/>
<line x1="724.10" y1="763.59" x2="731.30" y2="763.59" stroke="#6a6a6a" stroke-width="1.30"/>
<line x1="724.10" y1="773.49" x2="731.30" y2="773.49" stroke="#6a6a6a" stroke-width="1.30"/>
<line x1="611.00" y1="871.09" x2="611.00" y2="880.98" stroke="#606060" stroke-width="1.30"/>
<line x1="607.40" y1="871.09" x2="614.60" y2="871.09" stroke="#606060" stroke-width="1.30"/>
<line x1="607.40" y1="880.98" x2="614.60" y2="880.98" stroke="#606060" stroke-width="1.30"/>
<line x1="649.70" y1="866.51" x2="649.70" y2="878.88" stroke="#606060" stroke-width="1.30"/>
<line x1="646.10" y1="866.51" x2="653.30" y2="866.51" stroke="#606060" stroke-width="1.30"/>
<line x1="646.10" y1="878.88" x2="653.30" y2="878.88" stroke="#606060" stroke-width="1.30"/>
<line x1="688.40" y1="869.36" x2="688.40" y2="879.25" stroke="#606060" stroke-width="1.30"/>
<line x1="684.80" y1="869.36" x2="692.00" y2="869.36" stroke="#606060" stroke-width="1.30"/>
<line x1="684.80" y1="879.25" x2="692.00" y2="879.25" stroke="#606060" stroke-width="1.30"/>
<line x1="727.70" y1="856.37" x2="727.70" y2="872.45" stroke="#606060" stroke-width="1.30"/>
<line x1="724.10" y1="856.37" x2="731.30" y2="856.37" stroke="#606060" stroke-width="1.30"/>
<line x1="724.10" y1="872.45" x2="731.30" y2="872.45" stroke="#606060" stroke-width="1.30"/>
<line x1="766.50" y1="809.24" x2="766.50" y2="821.61" stroke="#606060" stroke-width="1.30"/>
<line x1="762.90" y1="809.24" x2="770.10" y2="809.24" stroke="#606060" stroke-width="1.30"/>
<line x1="762.90" y1="821.61" x2="770.10" y2="821.61" stroke="#606060" stroke-width="1.30"/>
<polyline points="611.00,830.14 649.70,824.82 688.40,809.24 727.70,744.67 766.50,743.92" fill="none" stroke="#bfbfbf" stroke-width="2.5" stroke-linejoin="round"/>
<rect x="606.60" y="825.74" width="8.80" height="8.80" fill="#bfbfbf"/>
<rect x="645.30" y="820.42" width="8.80" height="8.80" fill="#bfbfbf"/>
<rect x="684.00" y="804.84" width="8.80" height="8.80" fill="#bfbfbf"/>
<rect x="723.30" y="740.27" width="8.80" height="8.80" fill="#bfbfbf"/>
<rect x="762.10" y="739.52" width="8.80" height="8.80" fill="#bfbfbf"/>
<polyline points="611.00,855.62 649.70,840.04 688.40,850.68 727.70,768.54 766.50,746.40" fill="none" stroke="#7f7f7f" stroke-width="2.5" stroke-linejoin="round"/>
<circle cx="611.00" cy="855.62" r="4.70" fill="#7f7f7f"/>
<circle cx="649.70" cy="840.04" r="4.70" fill="#7f7f7f"/>
<circle cx="688.40" cy="850.68" r="4.70" fill="#7f7f7f"/>
<circle cx="727.70" cy="768.54" r="4.70" fill="#7f7f7f"/>
<circle cx="766.50" cy="746.40" r="4.70" fill="#7f7f7f"/>
<polyline points="611.00,876.04 649.70,872.70 688.40,874.30 727.70,864.41 766.50,815.42" fill="none" stroke="#000" stroke-width="2.8" stroke-linejoin="round"/>
<circle cx="611.00" cy="876.04" r="3.90" fill="#000"/>
<circle cx="649.70" cy="872.70" r="3.90" fill="#000"/>
<circle cx="688.40" cy="874.30" r="3.90" fill="#000"/>
<circle cx="727.70" cy="864.41" r="3.90" fill="#000"/>
<circle cx="766.50" cy="815.42" r="3.90" fill="#000"/>
<line x1="71.00" y1="1116.20" x2="266.00" y2="1116.20" stroke="#d9d9d9" stroke-width="1.20"/>
<text x="27.70" y="1148.34" font-size="16.50" fill="#000">-20</text>
<text x="42.37" y="1121.88" font-size="16.50" fill="#000">0</text>
<text x="33.19" y="1095.42" font-size="16.50" fill="#000">20</text>
<text x="33.19" y="1068.96" font-size="16.50" fill="#000">40</text>
<text x="33.19" y="1042.50" font-size="16.50" fill="#000">60</text>
<text x="33.19" y="1016.04" font-size="16.50" fill="#000">80</text>
<text x="24.01" y="989.58" font-size="16.50" fill="#000">100</text>
<text x="68.44" y="1142.00" font-size="16.80" fill="#000">0.4</text>
<text x="114.50" y="1142.00" font-size="16.80" fill="#000">1</text>
<text x="153.83" y="1142.00" font-size="16.80" fill="#000">2</text>
<text x="193.08" y="1142.00" font-size="16.80" fill="#000">4</text>
<text x="231.53" y="1142.00" font-size="16.80" fill="#000">8</text>
<text x="67.02" y="966.10" font-size="23.70" fill="#000">N-Oleoyldopamine</text>
<text x="155.72" y="1161.60" font-size="18.60" fill="#000">µM</text>
<text transform="translate(28.60,1115.26) rotate(-90)" font-size="18.30" font-weight="bold">% Inhibition</text>
<line x1="119.40" y1="1061.82" x2="119.40" y2="1069.76" stroke="#a0a0a0" stroke-width="1.30"/>
<line x1="115.80" y1="1061.82" x2="123.00" y2="1061.82" stroke="#a0a0a0" stroke-width="1.30"/>
<line x1="115.80" y1="1069.76" x2="123.00" y2="1069.76" stroke="#a0a0a0" stroke-width="1.30"/>
<line x1="80.20" y1="1085.37" x2="80.20" y2="1107.60" stroke="#6a6a6a" stroke-width="1.30"/>
<line x1="76.60" y1="1085.37" x2="83.80" y2="1085.37" stroke="#6a6a6a" stroke-width="1.30"/>
<line x1="76.60" y1="1107.60" x2="83.80" y2="1107.60" stroke="#6a6a6a" stroke-width="1.30"/>
<line x1="119.40" y1="1050.71" x2="119.40" y2="1094.11" stroke="#6a6a6a" stroke-width="1.30"/>
<line x1="115.80" y1="1050.71" x2="123.00" y2="1050.71" stroke="#6a6a6a" stroke-width="1.30"/>
<line x1="115.80" y1="1094.11" x2="123.00" y2="1094.11" stroke="#6a6a6a" stroke-width="1.30"/>
<line x1="158.50" y1="1033.64" x2="158.50" y2="1054.02" stroke="#6a6a6a" stroke-width="1.30"/>
<line x1="154.90" y1="1033.64" x2="162.10" y2="1033.64" stroke="#6a6a6a" stroke-width="1.30"/>
<line x1="154.90" y1="1054.02" x2="162.10" y2="1054.02" stroke="#6a6a6a" stroke-width="1.30"/>
<line x1="197.70" y1="1006.66" x2="197.70" y2="1017.24" stroke="#6a6a6a" stroke-width="1.30"/>
<line x1="194.10" y1="1006.66" x2="201.30" y2="1006.66" stroke="#6a6a6a" stroke-width="1.30"/>
<line x1="194.10" y1="1017.24" x2="201.30" y2="1017.24" stroke="#6a6a6a" stroke-width="1.30"/>
<line x1="236.20" y1="1000.04" x2="236.20" y2="1010.62" stroke="#6a6a6a" stroke-width="1.30"/>
<line x1="232.60" y1="1000.04" x2="239.80" y2="1000.04" stroke="#6a6a6a" stroke-width="1.30"/>
<line x1="232.60" y1="1010.62" x2="239.80" y2="1010.62" stroke="#6a6a6a" stroke-width="1.30"/>
<line x1="80.20" y1="1097.68" x2="80.20" y2="1117.52" stroke="#606060" stroke-width="1.30"/>
<line x1="76.60" y1="1097.68" x2="83.80" y2="1097.68" stroke="#606060" stroke-width="1.30"/>
<line x1="76.60" y1="1117.52" x2="83.80" y2="1117.52" stroke="#606060" stroke-width="1.30"/>
<line x1="119.40" y1="1086.83" x2="119.40" y2="1099.00" stroke="#606060" stroke-width="1.30"/>
<line x1="115.80" y1="1086.83" x2="123.00" y2="1086.83" stroke="#606060" stroke-width="1.30"/>
<line x1="115.80" y1="1099.00" x2="123.00" y2="1099.00" stroke="#606060" stroke-width="1.30"/>
<line x1="158.50" y1="1080.35" x2="158.50" y2="1084.32" stroke="#606060" stroke-width="1.30"/>
<line x1="154.90" y1="1080.35" x2="162.10" y2="1080.35" stroke="#606060" stroke-width="1.30"/>
<line x1="154.90" y1="1084.32" x2="162.10" y2="1084.32" stroke="#606060" stroke-width="1.30"/>
<line x1="197.70" y1="1062.09" x2="197.70" y2="1070.56" stroke="#606060" stroke-width="1.30"/>
<line x1="194.10" y1="1062.09" x2="201.30" y2="1062.09" stroke="#606060" stroke-width="1.30"/>
<line x1="194.10" y1="1070.56" x2="201.30" y2="1070.56" stroke="#606060" stroke-width="1.30"/>
<line x1="236.20" y1="1058.52" x2="236.20" y2="1065.13" stroke="#606060" stroke-width="1.30"/>
<line x1="232.60" y1="1058.52" x2="239.80" y2="1058.52" stroke="#606060" stroke-width="1.30"/>
<line x1="232.60" y1="1065.13" x2="239.80" y2="1065.13" stroke="#606060" stroke-width="1.30"/>
<polyline points="80.20,1100.06 119.40,1065.79 158.50,1015.26 197.70,992.23 236.20,990.91" fill="none" stroke="#bfbfbf" stroke-width="2.5" stroke-linejoin="round"/>
<rect x="75.80" y="1095.66" width="8.80" height="8.80" fill="#bfbfbf"/>
<rect x="115.00" y="1061.39" width="8.80" height="8.80" fill="#bfbfbf"/>
<rect x="154.10" y="1010.86" width="8.80" height="8.80" fill="#bfbfbf"/>
<rect x="193.30" y="987.83" width="8.80" height="8.80" fill="#bfbfbf"/>
<rect x="231.80" y="986.51" width="8.80" height="8.80" fill="#bfbfbf"/>
<polyline points="80.20,1096.49 119.40,1072.41 158.50,1043.83 197.70,1011.95 236.20,1005.33" fill="none" stroke="#7f7f7f" stroke-width="2.5" stroke-linejoin="round"/>
<circle cx="80.20" cy="1096.49" r="4.70" fill="#7f7f7f"/>
<circle cx="119.40" cy="1072.41" r="4.70" fill="#7f7f7f"/>
<circle cx="158.50" cy="1043.83" r="4.70" fill="#7f7f7f"/>
<circle cx="197.70" cy="1011.95" r="4.70" fill="#7f7f7f"/>
<circle cx="236.20" cy="1005.33" r="4.70" fill="#7f7f7f"/>
<polyline points="80.20,1107.60 119.40,1092.92 158.50,1082.33 197.70,1066.32 236.20,1061.82" fill="none" stroke="#000" stroke-width="2.8" stroke-linejoin="round"/>
<circle cx="80.20" cy="1107.60" r="3.90" fill="#000"/>
<circle cx="119.40" cy="1092.92" r="3.90" fill="#000"/>
<circle cx="158.50" cy="1082.33" r="3.90" fill="#000"/>
<circle cx="197.70" cy="1066.32" r="3.90" fill="#000"/>
<circle cx="236.20" cy="1061.82" r="3.90" fill="#000"/>
<line x1="336.00" y1="1113.40" x2="530.80" y2="1113.40" stroke="#d9d9d9" stroke-width="1.20"/>
<text x="292.50" y="1145.08" font-size="16.50" fill="#000">-20</text>
<text x="307.17" y="1119.08" font-size="16.50" fill="#000">0</text>
<text x="297.99" y="1093.08" font-size="16.50" fill="#000">20</text>
<text x="297.99" y="1067.08" font-size="16.50" fill="#000">40</text>
<text x="297.99" y="1041.08" font-size="16.50" fill="#000">60</text>
<text x="297.99" y="1015.08" font-size="16.50" fill="#000">80</text>
<text x="288.81" y="989.08" font-size="16.50" fill="#000">100</text>
<text x="334.44" y="1139.00" font-size="16.80" fill="#000">0.4</text>
<text x="380.30" y="1139.00" font-size="16.80" fill="#000">1</text>
<text x="419.43" y="1139.00" font-size="16.80" fill="#000">2</text>
<text x="457.78" y="1139.00" font-size="16.80" fill="#000">4</text>
<text x="496.73" y="1139.00" font-size="16.80" fill="#000">8</text>
<text x="398.32" y="965.70" font-size="23.70" fill="#000">YC-1</text>
<text x="420.72" y="1161.40" font-size="18.60" fill="#000">µM</text>
<text transform="translate(293.60,1113.06) rotate(-90)" font-size="18.30" font-weight="bold">% Inhibition</text>
<line x1="346.20" y1="1090.91" x2="346.20" y2="1104.43" stroke="#6a6a6a" stroke-width="1.30"/>
<line x1="342.60" y1="1090.91" x2="349.80" y2="1090.91" stroke="#6a6a6a" stroke-width="1.30"/>
<line x1="342.60" y1="1104.43" x2="349.80" y2="1104.43" stroke="#6a6a6a" stroke-width="1.30"/>
<line x1="385.20" y1="1048.27" x2="385.20" y2="1067.77" stroke="#6a6a6a" stroke-width="1.30"/>
<line x1="381.60" y1="1048.27" x2="388.80" y2="1048.27" stroke="#6a6a6a" stroke-width="1.30"/>
<line x1="381.60" y1="1067.77" x2="388.80" y2="1067.77" stroke="#6a6a6a" stroke-width="1.30"/>
<line x1="424.10" y1="1030.72" x2="424.10" y2="1043.72" stroke="#6a6a6a" stroke-width="1.30"/>
<line x1="420.50" y1="1030.72" x2="427.70" y2="1030.72" stroke="#6a6a6a" stroke-width="1.30"/>
<line x1="420.50" y1="1043.72" x2="427.70" y2="1043.72" stroke="#6a6a6a" stroke-width="1.30"/>
<line x1="462.40" y1="1017.46" x2="462.40" y2="1030.46" stroke="#6a6a6a" stroke-width="1.30"/>
<line x1="458.80" y1="1017.46" x2="466.00" y2="1017.46" stroke="#6a6a6a" stroke-width="1.30"/>
<line x1="458.80" y1="1030.46" x2="466.00" y2="1030.46" stroke="#6a6a6a" stroke-width="1.30"/>
<line x1="346.20" y1="1101.83" x2="346.20" y2="1123.93" stroke="#606060" stroke-width="1.30"/>
<line x1="342.60" y1="1101.83" x2="349.80" y2="1101.83" stroke="#606060" stroke-width="1.30"/>
<line x1="342.60" y1="1123.93" x2="349.80" y2="1123.93" stroke="#606060" stroke-width="1.30"/>
<line x1="424.10" y1="1111.45" x2="424.10" y2="1124.45" stroke="#606060" stroke-width="1.30"/>
<line x1="420.50" y1="1111.45" x2="427.70" y2="1111.45" stroke="#606060" stroke-width="1.30"/>
<line x1="420.50" y1="1124.45" x2="427.70" y2="1124.45" stroke="#606060" stroke-width="1.30"/>
<line x1="462.40" y1="1104.17" x2="462.40" y2="1123.67" stroke="#606060" stroke-width="1.30"/>
<line x1="458.80" y1="1104.17" x2="466.00" y2="1104.17" stroke="#606060" stroke-width="1.30"/>
<line x1="458.80" y1="1123.67" x2="466.00" y2="1123.67" stroke="#606060" stroke-width="1.30"/>
<line x1="501.40" y1="1103.26" x2="501.40" y2="1127.18" stroke="#606060" stroke-width="1.30"/>
<line x1="497.80" y1="1103.26" x2="505.00" y2="1103.26" stroke="#606060" stroke-width="1.30"/>
<line x1="497.80" y1="1127.18" x2="505.00" y2="1127.18" stroke="#606060" stroke-width="1.30"/>
<polyline points="346.20,1105.47 385.20,1068.81 424.10,1038.26 462.40,1020.71 501.40,1009.66" fill="none" stroke="#bfbfbf" stroke-width="2.5" stroke-linejoin="round"/>
<rect x="341.80" y="1101.07" width="8.80" height="8.80" fill="#bfbfbf"/>
<rect x="380.80" y="1064.41" width="8.80" height="8.80" fill="#bfbfbf"/>
<rect x="419.70" y="1033.86" width="8.80" height="8.80" fill="#bfbfbf"/>
<rect x="458.00" y="1016.31" width="8.80" height="8.80" fill="#bfbfbf"/>
<rect x="497.00" y="1005.26" width="8.80" height="8.80" fill="#bfbfbf"/>
<polyline points="346.20,1097.67 385.20,1058.02 424.10,1037.22 462.40,1023.96 501.40,1019.54" fill="none" stroke="#7f7f7f" stroke-width="2.5" stroke-linejoin="round"/>
<circle cx="346.20" cy="1097.67" r="4.70" fill="#7f7f7f"/>
<circle cx="385.20" cy="1058.02" r="4.70" fill="#7f7f7f"/>
<circle cx="424.10" cy="1037.22" r="4.70" fill="#7f7f7f"/>
<circle cx="462.40" cy="1023.96" r="4.70" fill="#7f7f7f"/>
<circle cx="501.40" cy="1019.54" r="4.70" fill="#7f7f7f"/>
<polyline points="346.20,1112.88 385.20,1119.77 424.10,1117.95 462.40,1113.92 501.40,1115.22" fill="none" stroke="#000" stroke-width="2.8" stroke-linejoin="round"/>
<circle cx="346.20" cy="1112.88" r="3.90" fill="#000"/>
<circle cx="385.20" cy="1119.77" r="3.90" fill="#000"/>
<circle cx="424.10" cy="1117.95" r="3.90" fill="#000"/>
<circle cx="462.40" cy="1113.92" r="3.90" fill="#000"/>
<circle cx="501.40" cy="1115.22" r="3.90" fill="#000"/>
<rect x="566.25" y="962.75" width="139.90" height="89.10" fill="none" stroke="#000" stroke-width="1.30"/>
<line x1="579.20" y1="982.20" x2="613.00" y2="982.20" stroke="#bfbfbf" stroke-width="1.90"/>
<rect x="591.10" y="977.60" width="9.20" height="9.20" fill="#bfbfbf"/>
<text x="614.87" y="989.00" font-size="23.50" fill="#000">hiPSOs</text>
<line x1="579.20" y1="1009.80" x2="613.00" y2="1009.80" stroke="#7f7f7f" stroke-width="1.90"/>
<circle cx="595.70" cy="1009.80" r="4.60" fill="#7f7f7f"/>
<text x="614.87" y="1016.60" font-size="23.50" fill="#000">hPIOs</text>
<line x1="579.20" y1="1037.40" x2="613.00" y2="1037.40" stroke="#000" stroke-width="2.20"/>
<circle cx="595.70" cy="1037.40" r="3.80" fill="#000"/>
<text x="615.31" y="1044.20" font-size="23.50" fill="#000">Caco-2</text>
</svg></body></html>
